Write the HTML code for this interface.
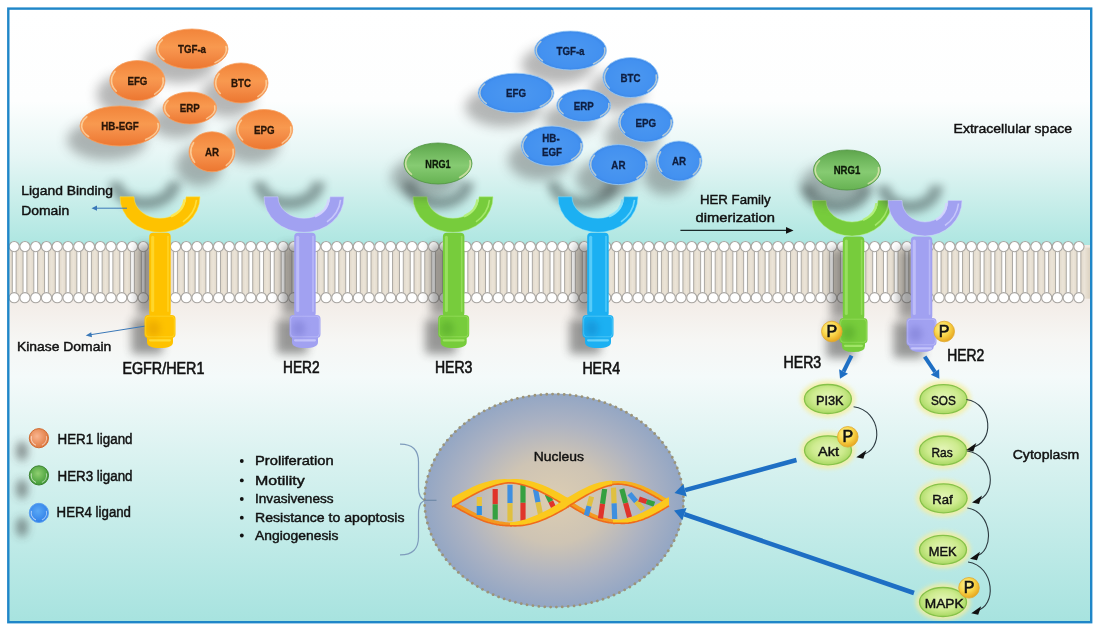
<!DOCTYPE html>
<html><head><meta charset="utf-8"><title>HER family signaling</title>
<style>html,body{margin:0;padding:0;background:#fff;width:1100px;height:631px;overflow:hidden}svg{display:block;font-family:"Liberation Sans", sans-serif;will-change:transform}</style>
</head><body>
<svg width="1100" height="631" viewBox="0 0 1100 631">
<defs>
<linearGradient id="bg" gradientUnits="userSpaceOnUse" x1="0" y1="9" x2="0" y2="622">
  <stop offset="0" stop-color="#ffffff"/>
  <stop offset="0.15" stop-color="#fdfefe"/>
  <stop offset="0.24" stop-color="#e6f6f5"/>
  <stop offset="0.32" stop-color="#c6ede9"/>
  <stop offset="0.385" stop-color="#ade6e1"/>
  <stop offset="0.385" stop-color="#f1e9e1"/>
  <stop offset="0.48" stop-color="#f3ede8"/>
  <stop offset="0.54" stop-color="#f6f6f4"/>
  <stop offset="0.60" stop-color="#f4fafa"/>
  <stop offset="0.75" stop-color="#d6f1ef"/>
  <stop offset="1" stop-color="#a7e3df"/>
</linearGradient>
<filter id="blur5" filterUnits="userSpaceOnUse" x="0" y="0" width="1100" height="631"><feGaussianBlur stdDeviation="5"/></filter>
<filter id="blur4" filterUnits="userSpaceOnUse" x="0" y="0" width="1100" height="631"><feGaussianBlur stdDeviation="4"/></filter>
<filter id="blur3" filterUnits="userSpaceOnUse" x="0" y="0" width="1100" height="631"><feGaussianBlur stdDeviation="3"/></filter>
<filter id="blur2" filterUnits="userSpaceOnUse" x="0" y="0" width="1100" height="631"><feGaussianBlur stdDeviation="2"/></filter>
<filter id="blur6" filterUnits="userSpaceOnUse" x="0" y="0" width="1100" height="631"><feGaussianBlur stdDeviation="6"/></filter>
<filter id="blur05" filterUnits="userSpaceOnUse" x="0" y="0" width="1100" height="631"><feGaussianBlur stdDeviation="0.6"/></filter>
<filter id="blur1" filterUnits="userSpaceOnUse" x="0" y="0" width="1100" height="631"><feGaussianBlur stdDeviation="1"/></filter>
<linearGradient id="gOr" x1="0" y1="0" x2="0" y2="1">
  <stop offset="0" stop-color="#f2843a"/>
  <stop offset="0.45" stop-color="#f8994f"/>
  <stop offset="0.6" stop-color="#f5904a"/>
  <stop offset="1" stop-color="#ec7630"/>
</linearGradient>
<radialGradient id="gBl" cx="0.5" cy="0.5" r="0.5">
  <stop offset="0" stop-color="#4c98f0"/>
  <stop offset="0.85" stop-color="#4391f0"/>
  <stop offset="1" stop-color="#3c88e8"/>
</radialGradient>
<linearGradient id="gGr" x1="0" y1="0" x2="0" y2="1">
  <stop offset="0" stop-color="#5ea44c"/>
  <stop offset="0.2" stop-color="#6cb45a"/>
  <stop offset="0.55" stop-color="#86cb72"/>
  <stop offset="1" stop-color="#66b252"/>
</linearGradient>
<radialGradient id="gSig" cx="0.5" cy="0.45" r="0.55">
  <stop offset="0" stop-color="#e4f5b8"/>
  <stop offset="0.6" stop-color="#cdeb8e"/>
  <stop offset="1" stop-color="#a9d862"/>
</radialGradient>
<radialGradient id="gP" cx="0.4" cy="0.35" r="0.65">
  <stop offset="0" stop-color="#fff4a0"/>
  <stop offset="0.55" stop-color="#f9d64a"/>
  <stop offset="1" stop-color="#e8a820"/>
</radialGradient>
<radialGradient id="gNuc" cx="0.5" cy="0.5" r="0.5">
  <stop offset="0" stop-color="#dccdb2"/>
  <stop offset="0.4" stop-color="#cec4b4"/>
  <stop offset="0.72" stop-color="#adb3c2"/>
  <stop offset="1" stop-color="#93a6c4"/>
</radialGradient>
<radialGradient id="gL1" cx="0.4" cy="0.4" r="0.6">
  <stop offset="0" stop-color="#f9b590"/>
  <stop offset="1" stop-color="#e07a40"/>
</radialGradient>
<radialGradient id="gL3" cx="0.45" cy="0.4" r="0.6">
  <stop offset="0" stop-color="#8fcf70"/>
  <stop offset="1" stop-color="#3f9a35"/>
</radialGradient>
<radialGradient id="gL4" cx="0.45" cy="0.4" r="0.6">
  <stop offset="0" stop-color="#5aa8f5"/>
  <stop offset="1" stop-color="#2f7fe8"/>
</radialGradient>
<linearGradient id="membG" x1="0" y1="0" x2="1" y2="0">
  <stop offset="0" stop-color="#ddd3c2"/>
  <stop offset="0.5" stop-color="#ebe4d8"/>
  <stop offset="1" stop-color="#ddd3c2"/>
</linearGradient>
<pattern id="memb" patternUnits="userSpaceOnUse" x="14.2" y="0" width="10.755" height="631">
  <rect x="0" y="0" width="10.755" height="631" fill="url(#membG)"/>
</pattern>
</defs>
<rect x="0" y="0" width="1100" height="631" fill="#ffffff"/>
<rect x="9" y="9" width="1082.5" height="613.5" fill="url(#bg)"/>
<rect x="9" y="247.6" width="1081" height="51.099999999999994" fill="url(#memb)"/>
<g><rect x="12.30" y="249.6" width="3.8" height="45.1" fill="#ffffff" stroke="#aca9a4" stroke-width="1"/><rect x="23.05" y="249.6" width="3.8" height="45.1" fill="#ffffff" stroke="#aca9a4" stroke-width="1"/><rect x="33.81" y="249.6" width="3.8" height="45.1" fill="#ffffff" stroke="#aca9a4" stroke-width="1"/><rect x="44.57" y="249.6" width="3.8" height="45.1" fill="#ffffff" stroke="#aca9a4" stroke-width="1"/><rect x="55.32" y="249.6" width="3.8" height="45.1" fill="#ffffff" stroke="#aca9a4" stroke-width="1"/><rect x="66.08" y="249.6" width="3.8" height="45.1" fill="#ffffff" stroke="#aca9a4" stroke-width="1"/><rect x="76.83" y="249.6" width="3.8" height="45.1" fill="#ffffff" stroke="#aca9a4" stroke-width="1"/><rect x="87.59" y="249.6" width="3.8" height="45.1" fill="#ffffff" stroke="#aca9a4" stroke-width="1"/><rect x="98.34" y="249.6" width="3.8" height="45.1" fill="#ffffff" stroke="#aca9a4" stroke-width="1"/><rect x="109.09" y="249.6" width="3.8" height="45.1" fill="#ffffff" stroke="#aca9a4" stroke-width="1"/><rect x="119.85" y="249.6" width="3.8" height="45.1" fill="#ffffff" stroke="#aca9a4" stroke-width="1"/><rect x="130.60" y="249.6" width="3.8" height="45.1" fill="#ffffff" stroke="#aca9a4" stroke-width="1"/><rect x="141.36" y="249.6" width="3.8" height="45.1" fill="#ffffff" stroke="#aca9a4" stroke-width="1"/><rect x="152.11" y="249.6" width="3.8" height="45.1" fill="#ffffff" stroke="#aca9a4" stroke-width="1"/><rect x="162.87" y="249.6" width="3.8" height="45.1" fill="#ffffff" stroke="#aca9a4" stroke-width="1"/><rect x="173.62" y="249.6" width="3.8" height="45.1" fill="#ffffff" stroke="#aca9a4" stroke-width="1"/><rect x="184.38" y="249.6" width="3.8" height="45.1" fill="#ffffff" stroke="#aca9a4" stroke-width="1"/><rect x="195.13" y="249.6" width="3.8" height="45.1" fill="#ffffff" stroke="#aca9a4" stroke-width="1"/><rect x="205.89" y="249.6" width="3.8" height="45.1" fill="#ffffff" stroke="#aca9a4" stroke-width="1"/><rect x="216.65" y="249.6" width="3.8" height="45.1" fill="#ffffff" stroke="#aca9a4" stroke-width="1"/><rect x="227.40" y="249.6" width="3.8" height="45.1" fill="#ffffff" stroke="#aca9a4" stroke-width="1"/><rect x="238.16" y="249.6" width="3.8" height="45.1" fill="#ffffff" stroke="#aca9a4" stroke-width="1"/><rect x="248.91" y="249.6" width="3.8" height="45.1" fill="#ffffff" stroke="#aca9a4" stroke-width="1"/><rect x="259.67" y="249.6" width="3.8" height="45.1" fill="#ffffff" stroke="#aca9a4" stroke-width="1"/><rect x="270.42" y="249.6" width="3.8" height="45.1" fill="#ffffff" stroke="#aca9a4" stroke-width="1"/><rect x="281.18" y="249.6" width="3.8" height="45.1" fill="#ffffff" stroke="#aca9a4" stroke-width="1"/><rect x="291.93" y="249.6" width="3.8" height="45.1" fill="#ffffff" stroke="#aca9a4" stroke-width="1"/><rect x="302.69" y="249.6" width="3.8" height="45.1" fill="#ffffff" stroke="#aca9a4" stroke-width="1"/><rect x="313.44" y="249.6" width="3.8" height="45.1" fill="#ffffff" stroke="#aca9a4" stroke-width="1"/><rect x="324.20" y="249.6" width="3.8" height="45.1" fill="#ffffff" stroke="#aca9a4" stroke-width="1"/><rect x="334.95" y="249.6" width="3.8" height="45.1" fill="#ffffff" stroke="#aca9a4" stroke-width="1"/><rect x="345.71" y="249.6" width="3.8" height="45.1" fill="#ffffff" stroke="#aca9a4" stroke-width="1"/><rect x="356.46" y="249.6" width="3.8" height="45.1" fill="#ffffff" stroke="#aca9a4" stroke-width="1"/><rect x="367.22" y="249.6" width="3.8" height="45.1" fill="#ffffff" stroke="#aca9a4" stroke-width="1"/><rect x="377.97" y="249.6" width="3.8" height="45.1" fill="#ffffff" stroke="#aca9a4" stroke-width="1"/><rect x="388.73" y="249.6" width="3.8" height="45.1" fill="#ffffff" stroke="#aca9a4" stroke-width="1"/><rect x="399.48" y="249.6" width="3.8" height="45.1" fill="#ffffff" stroke="#aca9a4" stroke-width="1"/><rect x="410.24" y="249.6" width="3.8" height="45.1" fill="#ffffff" stroke="#aca9a4" stroke-width="1"/><rect x="420.99" y="249.6" width="3.8" height="45.1" fill="#ffffff" stroke="#aca9a4" stroke-width="1"/><rect x="431.75" y="249.6" width="3.8" height="45.1" fill="#ffffff" stroke="#aca9a4" stroke-width="1"/><rect x="442.50" y="249.6" width="3.8" height="45.1" fill="#ffffff" stroke="#aca9a4" stroke-width="1"/><rect x="453.26" y="249.6" width="3.8" height="45.1" fill="#ffffff" stroke="#aca9a4" stroke-width="1"/><rect x="464.01" y="249.6" width="3.8" height="45.1" fill="#ffffff" stroke="#aca9a4" stroke-width="1"/><rect x="474.77" y="249.6" width="3.8" height="45.1" fill="#ffffff" stroke="#aca9a4" stroke-width="1"/><rect x="485.52" y="249.6" width="3.8" height="45.1" fill="#ffffff" stroke="#aca9a4" stroke-width="1"/><rect x="496.28" y="249.6" width="3.8" height="45.1" fill="#ffffff" stroke="#aca9a4" stroke-width="1"/><rect x="507.03" y="249.6" width="3.8" height="45.1" fill="#ffffff" stroke="#aca9a4" stroke-width="1"/><rect x="517.79" y="249.6" width="3.8" height="45.1" fill="#ffffff" stroke="#aca9a4" stroke-width="1"/><rect x="528.54" y="249.6" width="3.8" height="45.1" fill="#ffffff" stroke="#aca9a4" stroke-width="1"/><rect x="539.30" y="249.6" width="3.8" height="45.1" fill="#ffffff" stroke="#aca9a4" stroke-width="1"/><rect x="550.05" y="249.6" width="3.8" height="45.1" fill="#ffffff" stroke="#aca9a4" stroke-width="1"/><rect x="560.81" y="249.6" width="3.8" height="45.1" fill="#ffffff" stroke="#aca9a4" stroke-width="1"/><rect x="571.56" y="249.6" width="3.8" height="45.1" fill="#ffffff" stroke="#aca9a4" stroke-width="1"/><rect x="582.32" y="249.6" width="3.8" height="45.1" fill="#ffffff" stroke="#aca9a4" stroke-width="1"/><rect x="593.07" y="249.6" width="3.8" height="45.1" fill="#ffffff" stroke="#aca9a4" stroke-width="1"/><rect x="603.83" y="249.6" width="3.8" height="45.1" fill="#ffffff" stroke="#aca9a4" stroke-width="1"/><rect x="614.58" y="249.6" width="3.8" height="45.1" fill="#ffffff" stroke="#aca9a4" stroke-width="1"/><rect x="625.34" y="249.6" width="3.8" height="45.1" fill="#ffffff" stroke="#aca9a4" stroke-width="1"/><rect x="636.09" y="249.6" width="3.8" height="45.1" fill="#ffffff" stroke="#aca9a4" stroke-width="1"/><rect x="646.85" y="249.6" width="3.8" height="45.1" fill="#ffffff" stroke="#aca9a4" stroke-width="1"/><rect x="657.60" y="249.6" width="3.8" height="45.1" fill="#ffffff" stroke="#aca9a4" stroke-width="1"/><rect x="668.36" y="249.6" width="3.8" height="45.1" fill="#ffffff" stroke="#aca9a4" stroke-width="1"/><rect x="679.11" y="249.6" width="3.8" height="45.1" fill="#ffffff" stroke="#aca9a4" stroke-width="1"/><rect x="689.87" y="249.6" width="3.8" height="45.1" fill="#ffffff" stroke="#aca9a4" stroke-width="1"/><rect x="700.62" y="249.6" width="3.8" height="45.1" fill="#ffffff" stroke="#aca9a4" stroke-width="1"/><rect x="711.38" y="249.6" width="3.8" height="45.1" fill="#ffffff" stroke="#aca9a4" stroke-width="1"/><rect x="722.13" y="249.6" width="3.8" height="45.1" fill="#ffffff" stroke="#aca9a4" stroke-width="1"/><rect x="732.89" y="249.6" width="3.8" height="45.1" fill="#ffffff" stroke="#aca9a4" stroke-width="1"/><rect x="743.64" y="249.6" width="3.8" height="45.1" fill="#ffffff" stroke="#aca9a4" stroke-width="1"/><rect x="754.40" y="249.6" width="3.8" height="45.1" fill="#ffffff" stroke="#aca9a4" stroke-width="1"/><rect x="765.15" y="249.6" width="3.8" height="45.1" fill="#ffffff" stroke="#aca9a4" stroke-width="1"/><rect x="775.91" y="249.6" width="3.8" height="45.1" fill="#ffffff" stroke="#aca9a4" stroke-width="1"/><rect x="786.66" y="249.6" width="3.8" height="45.1" fill="#ffffff" stroke="#aca9a4" stroke-width="1"/><rect x="797.42" y="249.6" width="3.8" height="45.1" fill="#ffffff" stroke="#aca9a4" stroke-width="1"/><rect x="808.17" y="249.6" width="3.8" height="45.1" fill="#ffffff" stroke="#aca9a4" stroke-width="1"/><rect x="818.93" y="249.6" width="3.8" height="45.1" fill="#ffffff" stroke="#aca9a4" stroke-width="1"/><rect x="829.68" y="249.6" width="3.8" height="45.1" fill="#ffffff" stroke="#aca9a4" stroke-width="1"/><rect x="840.44" y="249.6" width="3.8" height="45.1" fill="#ffffff" stroke="#aca9a4" stroke-width="1"/><rect x="851.19" y="249.6" width="3.8" height="45.1" fill="#ffffff" stroke="#aca9a4" stroke-width="1"/><rect x="861.95" y="249.6" width="3.8" height="45.1" fill="#ffffff" stroke="#aca9a4" stroke-width="1"/><rect x="872.70" y="249.6" width="3.8" height="45.1" fill="#ffffff" stroke="#aca9a4" stroke-width="1"/><rect x="883.46" y="249.6" width="3.8" height="45.1" fill="#ffffff" stroke="#aca9a4" stroke-width="1"/><rect x="894.21" y="249.6" width="3.8" height="45.1" fill="#ffffff" stroke="#aca9a4" stroke-width="1"/><rect x="904.97" y="249.6" width="3.8" height="45.1" fill="#ffffff" stroke="#aca9a4" stroke-width="1"/><rect x="915.72" y="249.6" width="3.8" height="45.1" fill="#ffffff" stroke="#aca9a4" stroke-width="1"/><rect x="926.48" y="249.6" width="3.8" height="45.1" fill="#ffffff" stroke="#aca9a4" stroke-width="1"/><rect x="937.23" y="249.6" width="3.8" height="45.1" fill="#ffffff" stroke="#aca9a4" stroke-width="1"/><rect x="947.99" y="249.6" width="3.8" height="45.1" fill="#ffffff" stroke="#aca9a4" stroke-width="1"/><rect x="958.74" y="249.6" width="3.8" height="45.1" fill="#ffffff" stroke="#aca9a4" stroke-width="1"/><rect x="969.50" y="249.6" width="3.8" height="45.1" fill="#ffffff" stroke="#aca9a4" stroke-width="1"/><rect x="980.25" y="249.6" width="3.8" height="45.1" fill="#ffffff" stroke="#aca9a4" stroke-width="1"/><rect x="991.01" y="249.6" width="3.8" height="45.1" fill="#ffffff" stroke="#aca9a4" stroke-width="1"/><rect x="1001.76" y="249.6" width="3.8" height="45.1" fill="#ffffff" stroke="#aca9a4" stroke-width="1"/><rect x="1012.52" y="249.6" width="3.8" height="45.1" fill="#ffffff" stroke="#aca9a4" stroke-width="1"/><rect x="1023.27" y="249.6" width="3.8" height="45.1" fill="#ffffff" stroke="#aca9a4" stroke-width="1"/><rect x="1034.02" y="249.6" width="3.8" height="45.1" fill="#ffffff" stroke="#aca9a4" stroke-width="1"/><rect x="1044.78" y="249.6" width="3.8" height="45.1" fill="#ffffff" stroke="#aca9a4" stroke-width="1"/><rect x="1055.54" y="249.6" width="3.8" height="45.1" fill="#ffffff" stroke="#aca9a4" stroke-width="1"/><rect x="1066.29" y="249.6" width="3.8" height="45.1" fill="#ffffff" stroke="#aca9a4" stroke-width="1"/><rect x="1077.05" y="249.6" width="3.8" height="45.1" fill="#ffffff" stroke="#aca9a4" stroke-width="1"/><circle cx="14.20" cy="246.6" r="5.1" fill="#ffffff" stroke="#a9a6a2" stroke-width="1.1"/><circle cx="14.20" cy="297.7" r="5.1" fill="#ffffff" stroke="#a9a6a2" stroke-width="1.1"/><circle cx="24.95" cy="246.6" r="5.1" fill="#ffffff" stroke="#a9a6a2" stroke-width="1.1"/><circle cx="24.95" cy="297.7" r="5.1" fill="#ffffff" stroke="#a9a6a2" stroke-width="1.1"/><circle cx="35.71" cy="246.6" r="5.1" fill="#ffffff" stroke="#a9a6a2" stroke-width="1.1"/><circle cx="35.71" cy="297.7" r="5.1" fill="#ffffff" stroke="#a9a6a2" stroke-width="1.1"/><circle cx="46.47" cy="246.6" r="5.1" fill="#ffffff" stroke="#a9a6a2" stroke-width="1.1"/><circle cx="46.47" cy="297.7" r="5.1" fill="#ffffff" stroke="#a9a6a2" stroke-width="1.1"/><circle cx="57.22" cy="246.6" r="5.1" fill="#ffffff" stroke="#a9a6a2" stroke-width="1.1"/><circle cx="57.22" cy="297.7" r="5.1" fill="#ffffff" stroke="#a9a6a2" stroke-width="1.1"/><circle cx="67.98" cy="246.6" r="5.1" fill="#ffffff" stroke="#a9a6a2" stroke-width="1.1"/><circle cx="67.98" cy="297.7" r="5.1" fill="#ffffff" stroke="#a9a6a2" stroke-width="1.1"/><circle cx="78.73" cy="246.6" r="5.1" fill="#ffffff" stroke="#a9a6a2" stroke-width="1.1"/><circle cx="78.73" cy="297.7" r="5.1" fill="#ffffff" stroke="#a9a6a2" stroke-width="1.1"/><circle cx="89.49" cy="246.6" r="5.1" fill="#ffffff" stroke="#a9a6a2" stroke-width="1.1"/><circle cx="89.49" cy="297.7" r="5.1" fill="#ffffff" stroke="#a9a6a2" stroke-width="1.1"/><circle cx="100.24" cy="246.6" r="5.1" fill="#ffffff" stroke="#a9a6a2" stroke-width="1.1"/><circle cx="100.24" cy="297.7" r="5.1" fill="#ffffff" stroke="#a9a6a2" stroke-width="1.1"/><circle cx="111.00" cy="246.6" r="5.1" fill="#ffffff" stroke="#a9a6a2" stroke-width="1.1"/><circle cx="111.00" cy="297.7" r="5.1" fill="#ffffff" stroke="#a9a6a2" stroke-width="1.1"/><circle cx="121.75" cy="246.6" r="5.1" fill="#ffffff" stroke="#a9a6a2" stroke-width="1.1"/><circle cx="121.75" cy="297.7" r="5.1" fill="#ffffff" stroke="#a9a6a2" stroke-width="1.1"/><circle cx="132.50" cy="246.6" r="5.1" fill="#ffffff" stroke="#a9a6a2" stroke-width="1.1"/><circle cx="132.50" cy="297.7" r="5.1" fill="#ffffff" stroke="#a9a6a2" stroke-width="1.1"/><circle cx="143.26" cy="246.6" r="5.1" fill="#ffffff" stroke="#a9a6a2" stroke-width="1.1"/><circle cx="143.26" cy="297.7" r="5.1" fill="#ffffff" stroke="#a9a6a2" stroke-width="1.1"/><circle cx="154.01" cy="246.6" r="5.1" fill="#ffffff" stroke="#a9a6a2" stroke-width="1.1"/><circle cx="154.01" cy="297.7" r="5.1" fill="#ffffff" stroke="#a9a6a2" stroke-width="1.1"/><circle cx="164.77" cy="246.6" r="5.1" fill="#ffffff" stroke="#a9a6a2" stroke-width="1.1"/><circle cx="164.77" cy="297.7" r="5.1" fill="#ffffff" stroke="#a9a6a2" stroke-width="1.1"/><circle cx="175.53" cy="246.6" r="5.1" fill="#ffffff" stroke="#a9a6a2" stroke-width="1.1"/><circle cx="175.53" cy="297.7" r="5.1" fill="#ffffff" stroke="#a9a6a2" stroke-width="1.1"/><circle cx="186.28" cy="246.6" r="5.1" fill="#ffffff" stroke="#a9a6a2" stroke-width="1.1"/><circle cx="186.28" cy="297.7" r="5.1" fill="#ffffff" stroke="#a9a6a2" stroke-width="1.1"/><circle cx="197.03" cy="246.6" r="5.1" fill="#ffffff" stroke="#a9a6a2" stroke-width="1.1"/><circle cx="197.03" cy="297.7" r="5.1" fill="#ffffff" stroke="#a9a6a2" stroke-width="1.1"/><circle cx="207.79" cy="246.6" r="5.1" fill="#ffffff" stroke="#a9a6a2" stroke-width="1.1"/><circle cx="207.79" cy="297.7" r="5.1" fill="#ffffff" stroke="#a9a6a2" stroke-width="1.1"/><circle cx="218.55" cy="246.6" r="5.1" fill="#ffffff" stroke="#a9a6a2" stroke-width="1.1"/><circle cx="218.55" cy="297.7" r="5.1" fill="#ffffff" stroke="#a9a6a2" stroke-width="1.1"/><circle cx="229.30" cy="246.6" r="5.1" fill="#ffffff" stroke="#a9a6a2" stroke-width="1.1"/><circle cx="229.30" cy="297.7" r="5.1" fill="#ffffff" stroke="#a9a6a2" stroke-width="1.1"/><circle cx="240.06" cy="246.6" r="5.1" fill="#ffffff" stroke="#a9a6a2" stroke-width="1.1"/><circle cx="240.06" cy="297.7" r="5.1" fill="#ffffff" stroke="#a9a6a2" stroke-width="1.1"/><circle cx="250.81" cy="246.6" r="5.1" fill="#ffffff" stroke="#a9a6a2" stroke-width="1.1"/><circle cx="250.81" cy="297.7" r="5.1" fill="#ffffff" stroke="#a9a6a2" stroke-width="1.1"/><circle cx="261.56" cy="246.6" r="5.1" fill="#ffffff" stroke="#a9a6a2" stroke-width="1.1"/><circle cx="261.56" cy="297.7" r="5.1" fill="#ffffff" stroke="#a9a6a2" stroke-width="1.1"/><circle cx="272.32" cy="246.6" r="5.1" fill="#ffffff" stroke="#a9a6a2" stroke-width="1.1"/><circle cx="272.32" cy="297.7" r="5.1" fill="#ffffff" stroke="#a9a6a2" stroke-width="1.1"/><circle cx="283.07" cy="246.6" r="5.1" fill="#ffffff" stroke="#a9a6a2" stroke-width="1.1"/><circle cx="283.07" cy="297.7" r="5.1" fill="#ffffff" stroke="#a9a6a2" stroke-width="1.1"/><circle cx="293.83" cy="246.6" r="5.1" fill="#ffffff" stroke="#a9a6a2" stroke-width="1.1"/><circle cx="293.83" cy="297.7" r="5.1" fill="#ffffff" stroke="#a9a6a2" stroke-width="1.1"/><circle cx="304.59" cy="246.6" r="5.1" fill="#ffffff" stroke="#a9a6a2" stroke-width="1.1"/><circle cx="304.59" cy="297.7" r="5.1" fill="#ffffff" stroke="#a9a6a2" stroke-width="1.1"/><circle cx="315.34" cy="246.6" r="5.1" fill="#ffffff" stroke="#a9a6a2" stroke-width="1.1"/><circle cx="315.34" cy="297.7" r="5.1" fill="#ffffff" stroke="#a9a6a2" stroke-width="1.1"/><circle cx="326.10" cy="246.6" r="5.1" fill="#ffffff" stroke="#a9a6a2" stroke-width="1.1"/><circle cx="326.10" cy="297.7" r="5.1" fill="#ffffff" stroke="#a9a6a2" stroke-width="1.1"/><circle cx="336.85" cy="246.6" r="5.1" fill="#ffffff" stroke="#a9a6a2" stroke-width="1.1"/><circle cx="336.85" cy="297.7" r="5.1" fill="#ffffff" stroke="#a9a6a2" stroke-width="1.1"/><circle cx="347.61" cy="246.6" r="5.1" fill="#ffffff" stroke="#a9a6a2" stroke-width="1.1"/><circle cx="347.61" cy="297.7" r="5.1" fill="#ffffff" stroke="#a9a6a2" stroke-width="1.1"/><circle cx="358.36" cy="246.6" r="5.1" fill="#ffffff" stroke="#a9a6a2" stroke-width="1.1"/><circle cx="358.36" cy="297.7" r="5.1" fill="#ffffff" stroke="#a9a6a2" stroke-width="1.1"/><circle cx="369.12" cy="246.6" r="5.1" fill="#ffffff" stroke="#a9a6a2" stroke-width="1.1"/><circle cx="369.12" cy="297.7" r="5.1" fill="#ffffff" stroke="#a9a6a2" stroke-width="1.1"/><circle cx="379.87" cy="246.6" r="5.1" fill="#ffffff" stroke="#a9a6a2" stroke-width="1.1"/><circle cx="379.87" cy="297.7" r="5.1" fill="#ffffff" stroke="#a9a6a2" stroke-width="1.1"/><circle cx="390.62" cy="246.6" r="5.1" fill="#ffffff" stroke="#a9a6a2" stroke-width="1.1"/><circle cx="390.62" cy="297.7" r="5.1" fill="#ffffff" stroke="#a9a6a2" stroke-width="1.1"/><circle cx="401.38" cy="246.6" r="5.1" fill="#ffffff" stroke="#a9a6a2" stroke-width="1.1"/><circle cx="401.38" cy="297.7" r="5.1" fill="#ffffff" stroke="#a9a6a2" stroke-width="1.1"/><circle cx="412.13" cy="246.6" r="5.1" fill="#ffffff" stroke="#a9a6a2" stroke-width="1.1"/><circle cx="412.13" cy="297.7" r="5.1" fill="#ffffff" stroke="#a9a6a2" stroke-width="1.1"/><circle cx="422.89" cy="246.6" r="5.1" fill="#ffffff" stroke="#a9a6a2" stroke-width="1.1"/><circle cx="422.89" cy="297.7" r="5.1" fill="#ffffff" stroke="#a9a6a2" stroke-width="1.1"/><circle cx="433.65" cy="246.6" r="5.1" fill="#ffffff" stroke="#a9a6a2" stroke-width="1.1"/><circle cx="433.65" cy="297.7" r="5.1" fill="#ffffff" stroke="#a9a6a2" stroke-width="1.1"/><circle cx="444.40" cy="246.6" r="5.1" fill="#ffffff" stroke="#a9a6a2" stroke-width="1.1"/><circle cx="444.40" cy="297.7" r="5.1" fill="#ffffff" stroke="#a9a6a2" stroke-width="1.1"/><circle cx="455.16" cy="246.6" r="5.1" fill="#ffffff" stroke="#a9a6a2" stroke-width="1.1"/><circle cx="455.16" cy="297.7" r="5.1" fill="#ffffff" stroke="#a9a6a2" stroke-width="1.1"/><circle cx="465.91" cy="246.6" r="5.1" fill="#ffffff" stroke="#a9a6a2" stroke-width="1.1"/><circle cx="465.91" cy="297.7" r="5.1" fill="#ffffff" stroke="#a9a6a2" stroke-width="1.1"/><circle cx="476.67" cy="246.6" r="5.1" fill="#ffffff" stroke="#a9a6a2" stroke-width="1.1"/><circle cx="476.67" cy="297.7" r="5.1" fill="#ffffff" stroke="#a9a6a2" stroke-width="1.1"/><circle cx="487.42" cy="246.6" r="5.1" fill="#ffffff" stroke="#a9a6a2" stroke-width="1.1"/><circle cx="487.42" cy="297.7" r="5.1" fill="#ffffff" stroke="#a9a6a2" stroke-width="1.1"/><circle cx="498.18" cy="246.6" r="5.1" fill="#ffffff" stroke="#a9a6a2" stroke-width="1.1"/><circle cx="498.18" cy="297.7" r="5.1" fill="#ffffff" stroke="#a9a6a2" stroke-width="1.1"/><circle cx="508.93" cy="246.6" r="5.1" fill="#ffffff" stroke="#a9a6a2" stroke-width="1.1"/><circle cx="508.93" cy="297.7" r="5.1" fill="#ffffff" stroke="#a9a6a2" stroke-width="1.1"/><circle cx="519.69" cy="246.6" r="5.1" fill="#ffffff" stroke="#a9a6a2" stroke-width="1.1"/><circle cx="519.69" cy="297.7" r="5.1" fill="#ffffff" stroke="#a9a6a2" stroke-width="1.1"/><circle cx="530.44" cy="246.6" r="5.1" fill="#ffffff" stroke="#a9a6a2" stroke-width="1.1"/><circle cx="530.44" cy="297.7" r="5.1" fill="#ffffff" stroke="#a9a6a2" stroke-width="1.1"/><circle cx="541.20" cy="246.6" r="5.1" fill="#ffffff" stroke="#a9a6a2" stroke-width="1.1"/><circle cx="541.20" cy="297.7" r="5.1" fill="#ffffff" stroke="#a9a6a2" stroke-width="1.1"/><circle cx="551.95" cy="246.6" r="5.1" fill="#ffffff" stroke="#a9a6a2" stroke-width="1.1"/><circle cx="551.95" cy="297.7" r="5.1" fill="#ffffff" stroke="#a9a6a2" stroke-width="1.1"/><circle cx="562.71" cy="246.6" r="5.1" fill="#ffffff" stroke="#a9a6a2" stroke-width="1.1"/><circle cx="562.71" cy="297.7" r="5.1" fill="#ffffff" stroke="#a9a6a2" stroke-width="1.1"/><circle cx="573.46" cy="246.6" r="5.1" fill="#ffffff" stroke="#a9a6a2" stroke-width="1.1"/><circle cx="573.46" cy="297.7" r="5.1" fill="#ffffff" stroke="#a9a6a2" stroke-width="1.1"/><circle cx="584.22" cy="246.6" r="5.1" fill="#ffffff" stroke="#a9a6a2" stroke-width="1.1"/><circle cx="584.22" cy="297.7" r="5.1" fill="#ffffff" stroke="#a9a6a2" stroke-width="1.1"/><circle cx="594.97" cy="246.6" r="5.1" fill="#ffffff" stroke="#a9a6a2" stroke-width="1.1"/><circle cx="594.97" cy="297.7" r="5.1" fill="#ffffff" stroke="#a9a6a2" stroke-width="1.1"/><circle cx="605.73" cy="246.6" r="5.1" fill="#ffffff" stroke="#a9a6a2" stroke-width="1.1"/><circle cx="605.73" cy="297.7" r="5.1" fill="#ffffff" stroke="#a9a6a2" stroke-width="1.1"/><circle cx="616.48" cy="246.6" r="5.1" fill="#ffffff" stroke="#a9a6a2" stroke-width="1.1"/><circle cx="616.48" cy="297.7" r="5.1" fill="#ffffff" stroke="#a9a6a2" stroke-width="1.1"/><circle cx="627.24" cy="246.6" r="5.1" fill="#ffffff" stroke="#a9a6a2" stroke-width="1.1"/><circle cx="627.24" cy="297.7" r="5.1" fill="#ffffff" stroke="#a9a6a2" stroke-width="1.1"/><circle cx="637.99" cy="246.6" r="5.1" fill="#ffffff" stroke="#a9a6a2" stroke-width="1.1"/><circle cx="637.99" cy="297.7" r="5.1" fill="#ffffff" stroke="#a9a6a2" stroke-width="1.1"/><circle cx="648.75" cy="246.6" r="5.1" fill="#ffffff" stroke="#a9a6a2" stroke-width="1.1"/><circle cx="648.75" cy="297.7" r="5.1" fill="#ffffff" stroke="#a9a6a2" stroke-width="1.1"/><circle cx="659.50" cy="246.6" r="5.1" fill="#ffffff" stroke="#a9a6a2" stroke-width="1.1"/><circle cx="659.50" cy="297.7" r="5.1" fill="#ffffff" stroke="#a9a6a2" stroke-width="1.1"/><circle cx="670.26" cy="246.6" r="5.1" fill="#ffffff" stroke="#a9a6a2" stroke-width="1.1"/><circle cx="670.26" cy="297.7" r="5.1" fill="#ffffff" stroke="#a9a6a2" stroke-width="1.1"/><circle cx="681.01" cy="246.6" r="5.1" fill="#ffffff" stroke="#a9a6a2" stroke-width="1.1"/><circle cx="681.01" cy="297.7" r="5.1" fill="#ffffff" stroke="#a9a6a2" stroke-width="1.1"/><circle cx="691.77" cy="246.6" r="5.1" fill="#ffffff" stroke="#a9a6a2" stroke-width="1.1"/><circle cx="691.77" cy="297.7" r="5.1" fill="#ffffff" stroke="#a9a6a2" stroke-width="1.1"/><circle cx="702.52" cy="246.6" r="5.1" fill="#ffffff" stroke="#a9a6a2" stroke-width="1.1"/><circle cx="702.52" cy="297.7" r="5.1" fill="#ffffff" stroke="#a9a6a2" stroke-width="1.1"/><circle cx="713.28" cy="246.6" r="5.1" fill="#ffffff" stroke="#a9a6a2" stroke-width="1.1"/><circle cx="713.28" cy="297.7" r="5.1" fill="#ffffff" stroke="#a9a6a2" stroke-width="1.1"/><circle cx="724.03" cy="246.6" r="5.1" fill="#ffffff" stroke="#a9a6a2" stroke-width="1.1"/><circle cx="724.03" cy="297.7" r="5.1" fill="#ffffff" stroke="#a9a6a2" stroke-width="1.1"/><circle cx="734.79" cy="246.6" r="5.1" fill="#ffffff" stroke="#a9a6a2" stroke-width="1.1"/><circle cx="734.79" cy="297.7" r="5.1" fill="#ffffff" stroke="#a9a6a2" stroke-width="1.1"/><circle cx="745.54" cy="246.6" r="5.1" fill="#ffffff" stroke="#a9a6a2" stroke-width="1.1"/><circle cx="745.54" cy="297.7" r="5.1" fill="#ffffff" stroke="#a9a6a2" stroke-width="1.1"/><circle cx="756.30" cy="246.6" r="5.1" fill="#ffffff" stroke="#a9a6a2" stroke-width="1.1"/><circle cx="756.30" cy="297.7" r="5.1" fill="#ffffff" stroke="#a9a6a2" stroke-width="1.1"/><circle cx="767.05" cy="246.6" r="5.1" fill="#ffffff" stroke="#a9a6a2" stroke-width="1.1"/><circle cx="767.05" cy="297.7" r="5.1" fill="#ffffff" stroke="#a9a6a2" stroke-width="1.1"/><circle cx="777.81" cy="246.6" r="5.1" fill="#ffffff" stroke="#a9a6a2" stroke-width="1.1"/><circle cx="777.81" cy="297.7" r="5.1" fill="#ffffff" stroke="#a9a6a2" stroke-width="1.1"/><circle cx="788.56" cy="246.6" r="5.1" fill="#ffffff" stroke="#a9a6a2" stroke-width="1.1"/><circle cx="788.56" cy="297.7" r="5.1" fill="#ffffff" stroke="#a9a6a2" stroke-width="1.1"/><circle cx="799.32" cy="246.6" r="5.1" fill="#ffffff" stroke="#a9a6a2" stroke-width="1.1"/><circle cx="799.32" cy="297.7" r="5.1" fill="#ffffff" stroke="#a9a6a2" stroke-width="1.1"/><circle cx="810.07" cy="246.6" r="5.1" fill="#ffffff" stroke="#a9a6a2" stroke-width="1.1"/><circle cx="810.07" cy="297.7" r="5.1" fill="#ffffff" stroke="#a9a6a2" stroke-width="1.1"/><circle cx="820.83" cy="246.6" r="5.1" fill="#ffffff" stroke="#a9a6a2" stroke-width="1.1"/><circle cx="820.83" cy="297.7" r="5.1" fill="#ffffff" stroke="#a9a6a2" stroke-width="1.1"/><circle cx="831.58" cy="246.6" r="5.1" fill="#ffffff" stroke="#a9a6a2" stroke-width="1.1"/><circle cx="831.58" cy="297.7" r="5.1" fill="#ffffff" stroke="#a9a6a2" stroke-width="1.1"/><circle cx="842.34" cy="246.6" r="5.1" fill="#ffffff" stroke="#a9a6a2" stroke-width="1.1"/><circle cx="842.34" cy="297.7" r="5.1" fill="#ffffff" stroke="#a9a6a2" stroke-width="1.1"/><circle cx="853.09" cy="246.6" r="5.1" fill="#ffffff" stroke="#a9a6a2" stroke-width="1.1"/><circle cx="853.09" cy="297.7" r="5.1" fill="#ffffff" stroke="#a9a6a2" stroke-width="1.1"/><circle cx="863.85" cy="246.6" r="5.1" fill="#ffffff" stroke="#a9a6a2" stroke-width="1.1"/><circle cx="863.85" cy="297.7" r="5.1" fill="#ffffff" stroke="#a9a6a2" stroke-width="1.1"/><circle cx="874.60" cy="246.6" r="5.1" fill="#ffffff" stroke="#a9a6a2" stroke-width="1.1"/><circle cx="874.60" cy="297.7" r="5.1" fill="#ffffff" stroke="#a9a6a2" stroke-width="1.1"/><circle cx="885.36" cy="246.6" r="5.1" fill="#ffffff" stroke="#a9a6a2" stroke-width="1.1"/><circle cx="885.36" cy="297.7" r="5.1" fill="#ffffff" stroke="#a9a6a2" stroke-width="1.1"/><circle cx="896.11" cy="246.6" r="5.1" fill="#ffffff" stroke="#a9a6a2" stroke-width="1.1"/><circle cx="896.11" cy="297.7" r="5.1" fill="#ffffff" stroke="#a9a6a2" stroke-width="1.1"/><circle cx="906.87" cy="246.6" r="5.1" fill="#ffffff" stroke="#a9a6a2" stroke-width="1.1"/><circle cx="906.87" cy="297.7" r="5.1" fill="#ffffff" stroke="#a9a6a2" stroke-width="1.1"/><circle cx="917.62" cy="246.6" r="5.1" fill="#ffffff" stroke="#a9a6a2" stroke-width="1.1"/><circle cx="917.62" cy="297.7" r="5.1" fill="#ffffff" stroke="#a9a6a2" stroke-width="1.1"/><circle cx="928.38" cy="246.6" r="5.1" fill="#ffffff" stroke="#a9a6a2" stroke-width="1.1"/><circle cx="928.38" cy="297.7" r="5.1" fill="#ffffff" stroke="#a9a6a2" stroke-width="1.1"/><circle cx="939.13" cy="246.6" r="5.1" fill="#ffffff" stroke="#a9a6a2" stroke-width="1.1"/><circle cx="939.13" cy="297.7" r="5.1" fill="#ffffff" stroke="#a9a6a2" stroke-width="1.1"/><circle cx="949.89" cy="246.6" r="5.1" fill="#ffffff" stroke="#a9a6a2" stroke-width="1.1"/><circle cx="949.89" cy="297.7" r="5.1" fill="#ffffff" stroke="#a9a6a2" stroke-width="1.1"/><circle cx="960.64" cy="246.6" r="5.1" fill="#ffffff" stroke="#a9a6a2" stroke-width="1.1"/><circle cx="960.64" cy="297.7" r="5.1" fill="#ffffff" stroke="#a9a6a2" stroke-width="1.1"/><circle cx="971.40" cy="246.6" r="5.1" fill="#ffffff" stroke="#a9a6a2" stroke-width="1.1"/><circle cx="971.40" cy="297.7" r="5.1" fill="#ffffff" stroke="#a9a6a2" stroke-width="1.1"/><circle cx="982.15" cy="246.6" r="5.1" fill="#ffffff" stroke="#a9a6a2" stroke-width="1.1"/><circle cx="982.15" cy="297.7" r="5.1" fill="#ffffff" stroke="#a9a6a2" stroke-width="1.1"/><circle cx="992.91" cy="246.6" r="5.1" fill="#ffffff" stroke="#a9a6a2" stroke-width="1.1"/><circle cx="992.91" cy="297.7" r="5.1" fill="#ffffff" stroke="#a9a6a2" stroke-width="1.1"/><circle cx="1003.66" cy="246.6" r="5.1" fill="#ffffff" stroke="#a9a6a2" stroke-width="1.1"/><circle cx="1003.66" cy="297.7" r="5.1" fill="#ffffff" stroke="#a9a6a2" stroke-width="1.1"/><circle cx="1014.42" cy="246.6" r="5.1" fill="#ffffff" stroke="#a9a6a2" stroke-width="1.1"/><circle cx="1014.42" cy="297.7" r="5.1" fill="#ffffff" stroke="#a9a6a2" stroke-width="1.1"/><circle cx="1025.17" cy="246.6" r="5.1" fill="#ffffff" stroke="#a9a6a2" stroke-width="1.1"/><circle cx="1025.17" cy="297.7" r="5.1" fill="#ffffff" stroke="#a9a6a2" stroke-width="1.1"/><circle cx="1035.92" cy="246.6" r="5.1" fill="#ffffff" stroke="#a9a6a2" stroke-width="1.1"/><circle cx="1035.92" cy="297.7" r="5.1" fill="#ffffff" stroke="#a9a6a2" stroke-width="1.1"/><circle cx="1046.68" cy="246.6" r="5.1" fill="#ffffff" stroke="#a9a6a2" stroke-width="1.1"/><circle cx="1046.68" cy="297.7" r="5.1" fill="#ffffff" stroke="#a9a6a2" stroke-width="1.1"/><circle cx="1057.44" cy="246.6" r="5.1" fill="#ffffff" stroke="#a9a6a2" stroke-width="1.1"/><circle cx="1057.44" cy="297.7" r="5.1" fill="#ffffff" stroke="#a9a6a2" stroke-width="1.1"/><circle cx="1068.19" cy="246.6" r="5.1" fill="#ffffff" stroke="#a9a6a2" stroke-width="1.1"/><circle cx="1068.19" cy="297.7" r="5.1" fill="#ffffff" stroke="#a9a6a2" stroke-width="1.1"/><circle cx="1078.95" cy="246.6" r="5.1" fill="#ffffff" stroke="#a9a6a2" stroke-width="1.1"/><circle cx="1078.95" cy="297.7" r="5.1" fill="#ffffff" stroke="#a9a6a2" stroke-width="1.1"/></g>
<g filter="url(#blur4)" opacity="0.48"><path d="M109.0,181.8 A36,28 0 0 0 181.0,181.8 L168.0,181.8 A23,15 0 0 1 122.0,181.8 Z" fill="#3a4a4a"/></g><g filter="url(#blur5)" opacity="0.48"><rect x="137.2" y="244.8" width="21.5" height="70.19999999999999" fill="#404040"/><rect x="131.5" y="319" width="31" height="35" rx="4" fill="#303030"/></g><rect x="149.2" y="232.8" width="21.5" height="84.19999999999999" rx="4" fill="#fec200"/><rect x="151.2" y="235.8" width="3" height="76.19999999999999" rx="1.5" fill="#ffe850" opacity="0.55" filter="url(#blur05)"/><rect x="167.2" y="235.8" width="1.6" height="76.19999999999999" rx="0.8" fill="#ffe850" opacity="0.45" filter="url(#blur05)"/><path d="M147.0,335 L173.0,335 L173.0,342 Q173.0,348 160.0,348 Q147.0,348 147.0,342 Z" fill="#fec200"/><rect x="149.0" y="339.2" width="22" height="2.2" rx="1.1" fill="#ffe850" opacity="0.7" filter="url(#blur05)"/><rect x="144.5" y="315" width="31" height="23" rx="4" fill="#fec200"/><rect x="145.7" y="316.2" width="28.6" height="20.6" rx="3" fill="none" stroke="#ffe850" stroke-width="0.9" opacity="0.45"/><ellipse cx="153.5" cy="328.5" rx="7" ry="8" fill="#d89000" opacity="0.4" filter="url(#blur3)"/><path d="M120.0,196.8 A40,35.5 0 0 0 200.0,196.8 L186.0,196.8 A26,21.5 0 0 1 134.0,196.8 Z" fill="#fec200" stroke="#ffe850" stroke-width="0.9" stroke-opacity="0.55"/><path d="M184.5,199.3 A25,20.5 0 0 1 171.0,216.3" fill="none" stroke="#ffe850" stroke-width="2.4" opacity="0.95" filter="url(#blur05)"/><path d="M196.5,199.8 A36.5,32 0 0 1 183.0,221.8" fill="none" stroke="#ffe850" stroke-width="1.6" opacity="0.75" filter="url(#blur05)"/>
<g filter="url(#blur4)" opacity="0.48"><path d="M253.0,181.8 A36,28 0 0 0 325.0,181.8 L312.0,181.8 A23,15 0 0 1 266.0,181.8 Z" fill="#3a4a4a"/></g><g filter="url(#blur5)" opacity="0.48"><rect x="282.2" y="244.8" width="21.5" height="70.19999999999999" fill="#404040"/><rect x="276.5" y="319" width="31" height="35" rx="4" fill="#303030"/></g><rect x="294.2" y="232.8" width="21.5" height="84.19999999999999" rx="4" fill="#a1a1f1"/><rect x="296.2" y="235.8" width="3" height="76.19999999999999" rx="1.5" fill="#d4d4ff" opacity="0.55" filter="url(#blur05)"/><rect x="312.2" y="235.8" width="1.6" height="76.19999999999999" rx="0.8" fill="#d4d4ff" opacity="0.45" filter="url(#blur05)"/><path d="M292.0,335 L318.0,335 L318.0,342 Q318.0,348 305.0,348 Q292.0,348 292.0,342 Z" fill="#a1a1f1"/><rect x="294.0" y="339.2" width="22" height="2.2" rx="1.1" fill="#d4d4ff" opacity="0.7" filter="url(#blur05)"/><rect x="289.5" y="315" width="31" height="23" rx="4" fill="#a1a1f1"/><rect x="290.7" y="316.2" width="28.6" height="20.6" rx="3" fill="none" stroke="#d4d4ff" stroke-width="0.9" opacity="0.45"/><ellipse cx="298.5" cy="328.5" rx="7" ry="8" fill="#7070c8" opacity="0.4" filter="url(#blur3)"/><path d="M264.0,196.8 A40,35.5 0 0 0 344.0,196.8 L330.0,196.8 A26,21.5 0 0 1 278.0,196.8 Z" fill="#a1a1f1" stroke="#d4d4ff" stroke-width="0.9" stroke-opacity="0.55"/><path d="M328.5,199.3 A25,20.5 0 0 1 315.0,216.3" fill="none" stroke="#d4d4ff" stroke-width="2.4" opacity="0.95" filter="url(#blur05)"/><path d="M340.5,199.8 A36.5,32 0 0 1 327.0,221.8" fill="none" stroke="#d4d4ff" stroke-width="1.6" opacity="0.75" filter="url(#blur05)"/>
<g filter="url(#blur4)" opacity="0.48"><path d="M402.0,181.8 A36,28 0 0 0 474.0,181.8 L461.0,181.8 A23,15 0 0 1 415.0,181.8 Z" fill="#3a4a4a"/></g><g filter="url(#blur5)" opacity="0.48"><rect x="430.9" y="244.8" width="21.5" height="70.19999999999999" fill="#404040"/><rect x="425.2" y="319" width="31" height="35" rx="4" fill="#303030"/></g><rect x="442.9" y="232.8" width="21.5" height="84.19999999999999" rx="4" fill="#77cc3c"/><rect x="444.9" y="235.8" width="3" height="76.19999999999999" rx="1.5" fill="#b4f07a" opacity="0.55" filter="url(#blur05)"/><rect x="460.9" y="235.8" width="1.6" height="76.19999999999999" rx="0.8" fill="#b4f07a" opacity="0.45" filter="url(#blur05)"/><path d="M440.7,335 L466.7,335 L466.7,342 Q466.7,348 453.7,348 Q440.7,348 440.7,342 Z" fill="#77cc3c"/><rect x="442.7" y="339.2" width="22" height="2.2" rx="1.1" fill="#b4f07a" opacity="0.7" filter="url(#blur05)"/><rect x="438.2" y="315" width="31" height="23" rx="4" fill="#77cc3c"/><rect x="439.4" y="316.2" width="28.6" height="20.6" rx="3" fill="none" stroke="#b4f07a" stroke-width="0.9" opacity="0.45"/><ellipse cx="447.2" cy="328.5" rx="7" ry="8" fill="#4a9a20" opacity="0.4" filter="url(#blur3)"/><path d="M413.0,196.8 A40,35.5 0 0 0 493.0,196.8 L479.0,196.8 A26,21.5 0 0 1 427.0,196.8 Z" fill="#77cc3c" stroke="#b4f07a" stroke-width="0.9" stroke-opacity="0.55"/><path d="M477.5,199.3 A25,20.5 0 0 1 464.0,216.3" fill="none" stroke="#b4f07a" stroke-width="2.4" opacity="0.95" filter="url(#blur05)"/><path d="M489.5,199.8 A36.5,32 0 0 1 476.0,221.8" fill="none" stroke="#b4f07a" stroke-width="1.6" opacity="0.75" filter="url(#blur05)"/>
<g filter="url(#blur4)" opacity="0.48"><path d="M547.0,181.8 A36,28 0 0 0 619.0,181.8 L606.0,181.8 A23,15 0 0 1 560.0,181.8 Z" fill="#3a4a4a"/></g><g filter="url(#blur5)" opacity="0.48"><rect x="575.2" y="244.8" width="21.5" height="70.19999999999999" fill="#404040"/><rect x="569.5" y="319" width="31" height="35" rx="4" fill="#303030"/></g><rect x="587.2" y="232.8" width="21.5" height="84.19999999999999" rx="4" fill="#1cb0f2"/><rect x="589.2" y="235.8" width="3" height="76.19999999999999" rx="1.5" fill="#8ae4ff" opacity="0.55" filter="url(#blur05)"/><rect x="605.2" y="235.8" width="1.6" height="76.19999999999999" rx="0.8" fill="#8ae4ff" opacity="0.45" filter="url(#blur05)"/><path d="M585.0,335 L611.0,335 L611.0,342 Q611.0,348 598.0,348 Q585.0,348 585.0,342 Z" fill="#1cb0f2"/><rect x="587.0" y="339.2" width="22" height="2.2" rx="1.1" fill="#8ae4ff" opacity="0.7" filter="url(#blur05)"/><rect x="582.5" y="315" width="31" height="23" rx="4" fill="#1cb0f2"/><rect x="583.7" y="316.2" width="28.6" height="20.6" rx="3" fill="none" stroke="#8ae4ff" stroke-width="0.9" opacity="0.45"/><ellipse cx="591.5" cy="328.5" rx="7" ry="8" fill="#0a7ac0" opacity="0.4" filter="url(#blur3)"/><path d="M558.0,196.8 A40,35.5 0 0 0 638.0,196.8 L624.0,196.8 A26,21.5 0 0 1 572.0,196.8 Z" fill="#1cb0f2" stroke="#8ae4ff" stroke-width="0.9" stroke-opacity="0.55"/><path d="M622.5,199.3 A25,20.5 0 0 1 609.0,216.3" fill="none" stroke="#8ae4ff" stroke-width="2.4" opacity="0.95" filter="url(#blur05)"/><path d="M634.5,199.8 A36.5,32 0 0 1 621.0,221.8" fill="none" stroke="#8ae4ff" stroke-width="1.6" opacity="0.75" filter="url(#blur05)"/>
<g filter="url(#blur4)" opacity="0.48"><path d="M801.0,185.5 A36,28 0 0 0 873.0,185.5 L860.0,185.5 A23,15 0 0 1 814.0,185.5 Z" fill="#3a4a4a"/></g><g filter="url(#blur5)" opacity="0.48"><rect x="830.8" y="248.5" width="21.5" height="69.5" fill="#404040"/><rect x="826.5" y="322" width="28" height="36" rx="4" fill="#303030"/></g><rect x="842.8" y="236.5" width="21.5" height="83.5" rx="4" fill="#77cc3c"/><rect x="844.8" y="239.5" width="3" height="75.5" rx="1.5" fill="#b4f07a" opacity="0.55" filter="url(#blur05)"/><rect x="860.8" y="239.5" width="1.6" height="75.5" rx="0.8" fill="#b4f07a" opacity="0.45" filter="url(#blur05)"/><path d="M842.0,340.5 L865.0,340.5 L865.0,346 Q865.0,352 853.5,352 Q842.0,352 842.0,346 Z" fill="#77cc3c"/><rect x="844.0" y="344.7" width="19" height="2.2" rx="1.1" fill="#b4f07a" opacity="0.7" filter="url(#blur05)"/><rect x="839.5" y="318" width="28" height="25.5" rx="4" fill="#77cc3c"/><rect x="840.7" y="319.2" width="25.6" height="23.1" rx="3" fill="none" stroke="#b4f07a" stroke-width="0.9" opacity="0.45"/><ellipse cx="848.5" cy="332.8" rx="7" ry="8" fill="#4a9a20" opacity="0.4" filter="url(#blur3)"/><path d="M812.0,200.5 A40,35.5 0 0 0 892.0,200.5 L878.0,200.5 A26,21.5 0 0 1 826.0,200.5 Z" fill="#77cc3c" stroke="#b4f07a" stroke-width="0.9" stroke-opacity="0.55"/><path d="M876.5,203.0 A25,20.5 0 0 1 863.0,220.0" fill="none" stroke="#b4f07a" stroke-width="2.4" opacity="0.95" filter="url(#blur05)"/><path d="M888.5,203.5 A36.5,32 0 0 1 875.0,225.5" fill="none" stroke="#b4f07a" stroke-width="1.6" opacity="0.75" filter="url(#blur05)"/>
<g filter="url(#blur4)" opacity="0.48"><path d="M877.0,185.5 A33,28 0 0 0 943.0,185.5 L930.0,185.5 A20,15 0 0 1 890.0,185.5 Z" fill="#3a4a4a"/></g><g filter="url(#blur5)" opacity="0.48"><rect x="898.8" y="248.5" width="21.5" height="69.5" fill="#404040"/><rect x="893.5" y="322" width="30" height="36" rx="4" fill="#303030"/></g><rect x="910.8" y="236.5" width="21.5" height="83.5" rx="4" fill="#a1a1f1"/><rect x="912.8" y="239.5" width="3" height="75.5" rx="1.5" fill="#d4d4ff" opacity="0.55" filter="url(#blur05)"/><rect x="928.8" y="239.5" width="1.6" height="75.5" rx="0.8" fill="#d4d4ff" opacity="0.45" filter="url(#blur05)"/><path d="M909.0,343 L934.0,343 L934.0,346 Q934.0,352 921.5,352 Q909.0,352 909.0,346 Z" fill="#a1a1f1"/><rect x="911.0" y="347.2" width="21" height="2.2" rx="1.1" fill="#d4d4ff" opacity="0.7" filter="url(#blur05)"/><rect x="906.5" y="318" width="30" height="28" rx="4" fill="#a1a1f1"/><rect x="907.7" y="319.2" width="27.6" height="25.6" rx="3" fill="none" stroke="#d4d4ff" stroke-width="0.9" opacity="0.45"/><ellipse cx="915.5" cy="334.0" rx="7" ry="8" fill="#7070c8" opacity="0.4" filter="url(#blur3)"/><path d="M888.0,200.5 A37,35.5 0 0 0 962.0,200.5 L948.0,200.5 A23,21.5 0 0 1 902.0,200.5 Z" fill="#a1a1f1" stroke="#d4d4ff" stroke-width="0.9" stroke-opacity="0.55"/><path d="M946.5,203.0 A22,20.5 0 0 1 936.0,220.0" fill="none" stroke="#d4d4ff" stroke-width="2.4" opacity="0.95" filter="url(#blur05)"/><path d="M958.5,203.5 A33.5,32 0 0 1 945.0,225.5" fill="none" stroke="#d4d4ff" stroke-width="1.6" opacity="0.75" filter="url(#blur05)"/>
<g filter="url(#blur6)" opacity="0.36"><ellipse cx="179" cy="63" rx="36" ry="20" fill="#3a3a3a"/><ellipse cx="124.4" cy="94.6" rx="27.6" ry="20" fill="#3a3a3a"/><ellipse cx="228" cy="97" rx="27" ry="20" fill="#3a3a3a"/><ellipse cx="176.8" cy="122" rx="26.8" ry="16" fill="#3a3a3a"/><ellipse cx="107" cy="140" rx="40" ry="20" fill="#3a3a3a"/><ellipse cx="251.39999999999998" cy="143.5" rx="28.3" ry="20" fill="#3a3a3a"/><ellipse cx="199" cy="165.8" rx="23" ry="20" fill="#3a3a3a"/></g>
<g filter="url(#blur6)" opacity="0.36"><ellipse cx="557.5" cy="64.5" rx="36" ry="19.5" fill="#3a3a3a"/><ellipse cx="617.5" cy="91.5" rx="27.7" ry="20" fill="#3a3a3a"/><ellipse cx="503" cy="107" rx="38" ry="19.8" fill="#3a3a3a"/><ellipse cx="570.7" cy="119.5" rx="27" ry="16" fill="#3a3a3a"/><ellipse cx="632.7" cy="136.5" rx="27.4" ry="19.5" fill="#3a3a3a"/><ellipse cx="539" cy="160" rx="31" ry="20" fill="#3a3a3a"/><ellipse cx="605.4" cy="178.6" rx="29.4" ry="20" fill="#3a3a3a"/><ellipse cx="666" cy="175" rx="23" ry="20" fill="#3a3a3a"/></g>
<g filter="url(#blur6)" opacity="0.36"><ellipse cx="425" cy="177.5" rx="34" ry="20.5" fill="#3a3a3a"/><ellipse cx="834" cy="184" rx="33.5" ry="20" fill="#3a3a3a"/></g>
<ellipse cx="192" cy="49" rx="36" ry="20" fill="url(#gOr)" stroke="#f6a060" stroke-width="0.8"/><path d="M162.3,39.9 A34.3,18.3 0 0 0 163.9,59.5" fill="none" stroke="#fff0c8" stroke-width="1.6" opacity="0.6" stroke-linecap="round" filter="url(#blur05)"/><path d="M226.0,46.5 A34.3,18.3 0 0 1 215.0,62.6" fill="none" stroke="#fff0c8" stroke-width="1.6" opacity="0.6" stroke-linecap="round" filter="url(#blur05)"/><text x="192" y="53.0" font-size="11.2" font-weight="bold" fill="#2a1608" stroke="#2a1608" stroke-width="0.3" text-anchor="middle" textLength="28.1" lengthAdjust="spacingAndGlyphs">TGF-a</text>
<ellipse cx="137.4" cy="80.6" rx="27.6" ry="20" fill="url(#gOr)" stroke="#f6a060" stroke-width="0.8"/><path d="M115.0,71.4 A25.9,18.3 0 0 0 116.2,91.1" fill="none" stroke="#fff0c8" stroke-width="1.6" opacity="0.6" stroke-linecap="round" filter="url(#blur05)"/><path d="M163.0,78.1 A25.9,18.3 0 0 1 154.7,94.2" fill="none" stroke="#fff0c8" stroke-width="1.6" opacity="0.6" stroke-linecap="round" filter="url(#blur05)"/><text x="137.4" y="84.6" font-size="11.2" font-weight="bold" fill="#2a1608" stroke="#2a1608" stroke-width="0.3" text-anchor="middle" textLength="20.0" lengthAdjust="spacingAndGlyphs">EFG</text>
<ellipse cx="241" cy="83" rx="27" ry="20" fill="url(#gOr)" stroke="#f6a060" stroke-width="0.8"/><path d="M219.1,73.8 A25.3,18.3 0 0 0 220.3,93.5" fill="none" stroke="#fff0c8" stroke-width="1.6" opacity="0.6" stroke-linecap="round" filter="url(#blur05)"/><path d="M266.1,80.5 A25.3,18.3 0 0 1 257.9,96.6" fill="none" stroke="#fff0c8" stroke-width="1.6" opacity="0.6" stroke-linecap="round" filter="url(#blur05)"/><text x="241" y="87.0" font-size="11.2" font-weight="bold" fill="#2a1608" stroke="#2a1608" stroke-width="0.3" text-anchor="middle" textLength="20.0" lengthAdjust="spacingAndGlyphs">BTC</text>
<ellipse cx="189.8" cy="108" rx="26.8" ry="16" fill="url(#gOr)" stroke="#f6a060" stroke-width="0.8"/><path d="M168.1,100.8 A25.1,14.3 0 0 0 169.2,116.2" fill="none" stroke="#fff0c8" stroke-width="1.6" opacity="0.6" stroke-linecap="round" filter="url(#blur05)"/><path d="M214.7,106.0 A25.1,14.3 0 0 1 206.6,118.6" fill="none" stroke="#fff0c8" stroke-width="1.6" opacity="0.6" stroke-linecap="round" filter="url(#blur05)"/><text x="189.8" y="112.0" font-size="11.2" font-weight="bold" fill="#2a1608" stroke="#2a1608" stroke-width="0.3" text-anchor="middle" textLength="20.0" lengthAdjust="spacingAndGlyphs">ERP</text>
<ellipse cx="120" cy="126" rx="40" ry="20" fill="url(#gOr)" stroke="#f6a060" stroke-width="0.8"/><path d="M86.8,116.8 A38.3,18.3 0 0 0 88.6,136.5" fill="none" stroke="#fff0c8" stroke-width="1.6" opacity="0.6" stroke-linecap="round" filter="url(#blur05)"/><path d="M157.9,123.5 A38.3,18.3 0 0 1 145.6,139.6" fill="none" stroke="#fff0c8" stroke-width="1.6" opacity="0.6" stroke-linecap="round" filter="url(#blur05)"/><text x="120" y="130.0" font-size="11.2" font-weight="bold" fill="#2a1608" stroke="#2a1608" stroke-width="0.3" text-anchor="middle" textLength="37.4" lengthAdjust="spacingAndGlyphs">HB-EGF</text>
<ellipse cx="264.4" cy="129.5" rx="28.3" ry="20" fill="url(#gOr)" stroke="#f6a060" stroke-width="0.8"/><path d="M241.4,120.3 A26.6,18.3 0 0 0 242.6,140.0" fill="none" stroke="#fff0c8" stroke-width="1.6" opacity="0.6" stroke-linecap="round" filter="url(#blur05)"/><path d="M290.7,127.0 A26.6,18.3 0 0 1 282.2,143.1" fill="none" stroke="#fff0c8" stroke-width="1.6" opacity="0.6" stroke-linecap="round" filter="url(#blur05)"/><text x="264.4" y="133.5" font-size="11.2" font-weight="bold" fill="#2a1608" stroke="#2a1608" stroke-width="0.3" text-anchor="middle" textLength="20.6" lengthAdjust="spacingAndGlyphs">EPG</text>
<ellipse cx="212" cy="151.8" rx="23" ry="20" fill="url(#gOr)" stroke="#f6a060" stroke-width="0.8"/><path d="M193.6,142.7 A21.3,18.3 0 0 0 194.6,162.3" fill="none" stroke="#fff0c8" stroke-width="1.6" opacity="0.6" stroke-linecap="round" filter="url(#blur05)"/><path d="M233.1,149.3 A21.3,18.3 0 0 1 226.3,165.4" fill="none" stroke="#fff0c8" stroke-width="1.6" opacity="0.6" stroke-linecap="round" filter="url(#blur05)"/><text x="212" y="155.8" font-size="11.2" font-weight="bold" fill="#2a1608" stroke="#2a1608" stroke-width="0.3" text-anchor="middle" textLength="14.1" lengthAdjust="spacingAndGlyphs">AR</text>
<ellipse cx="570.5" cy="50.5" rx="36" ry="19.5" fill="url(#gBl)" stroke="#9ccbf6" stroke-width="0.8"/><path d="M540.8,41.6 A34.3,17.8 0 0 0 542.4,60.7" fill="none" stroke="#fff0c8" stroke-width="1.6" opacity="0.6" stroke-linecap="round" filter="url(#blur05)"/><path d="M604.5,48.0 A34.3,17.8 0 0 1 593.5,63.7" fill="none" stroke="#fff0c8" stroke-width="1.6" opacity="0.6" stroke-linecap="round" filter="url(#blur05)"/><text x="570.5" y="54.5" font-size="11.2" font-weight="bold" fill="#0e1e40" stroke="#0e1e40" stroke-width="0.3" text-anchor="middle" textLength="28.1" lengthAdjust="spacingAndGlyphs">TGF-a</text>
<ellipse cx="630.5" cy="77.5" rx="27.7" ry="20" fill="url(#gBl)" stroke="#9ccbf6" stroke-width="0.8"/><path d="M608.0,68.3 A26.0,18.3 0 0 0 609.2,88.0" fill="none" stroke="#fff0c8" stroke-width="1.6" opacity="0.6" stroke-linecap="round" filter="url(#blur05)"/><path d="M656.2,75.0 A26.0,18.3 0 0 1 647.9,91.1" fill="none" stroke="#fff0c8" stroke-width="1.6" opacity="0.6" stroke-linecap="round" filter="url(#blur05)"/><text x="630.5" y="81.5" font-size="11.2" font-weight="bold" fill="#0e1e40" stroke="#0e1e40" stroke-width="0.3" text-anchor="middle" textLength="20.0" lengthAdjust="spacingAndGlyphs">BTC</text>
<ellipse cx="516" cy="93" rx="38" ry="19.8" fill="url(#gBl)" stroke="#9ccbf6" stroke-width="0.8"/><path d="M484.6,84.0 A36.3,18.1 0 0 0 486.3,103.4" fill="none" stroke="#fff0c8" stroke-width="1.6" opacity="0.6" stroke-linecap="round" filter="url(#blur05)"/><path d="M551.9,90.5 A36.3,18.1 0 0 1 540.3,106.5" fill="none" stroke="#fff0c8" stroke-width="1.6" opacity="0.6" stroke-linecap="round" filter="url(#blur05)"/><text x="516" y="97.0" font-size="11.2" font-weight="bold" fill="#0e1e40" stroke="#0e1e40" stroke-width="0.3" text-anchor="middle" textLength="20.0" lengthAdjust="spacingAndGlyphs">EFG</text>
<ellipse cx="583.7" cy="105.5" rx="27" ry="16" fill="url(#gBl)" stroke="#9ccbf6" stroke-width="0.8"/><path d="M561.8,98.3 A25.3,14.3 0 0 0 563.0,113.7" fill="none" stroke="#fff0c8" stroke-width="1.6" opacity="0.6" stroke-linecap="round" filter="url(#blur05)"/><path d="M608.8,103.5 A25.3,14.3 0 0 1 600.6,116.1" fill="none" stroke="#fff0c8" stroke-width="1.6" opacity="0.6" stroke-linecap="round" filter="url(#blur05)"/><text x="583.7" y="109.5" font-size="11.2" font-weight="bold" fill="#0e1e40" stroke="#0e1e40" stroke-width="0.3" text-anchor="middle" textLength="20.0" lengthAdjust="spacingAndGlyphs">ERP</text>
<ellipse cx="645.7" cy="122.5" rx="27.4" ry="19.5" fill="url(#gBl)" stroke="#9ccbf6" stroke-width="0.8"/><path d="M623.4,113.6 A25.7,17.8 0 0 0 624.6,132.7" fill="none" stroke="#fff0c8" stroke-width="1.6" opacity="0.6" stroke-linecap="round" filter="url(#blur05)"/><path d="M671.1,120.0 A25.7,17.8 0 0 1 662.9,135.7" fill="none" stroke="#fff0c8" stroke-width="1.6" opacity="0.6" stroke-linecap="round" filter="url(#blur05)"/><text x="645.7" y="126.5" font-size="11.2" font-weight="bold" fill="#0e1e40" stroke="#0e1e40" stroke-width="0.3" text-anchor="middle" textLength="20.6" lengthAdjust="spacingAndGlyphs">EPG</text>
<ellipse cx="552" cy="146" rx="31" ry="20" fill="url(#gBl)" stroke="#9ccbf6" stroke-width="0.8"/><path d="M526.6,136.8 A29.3,18.3 0 0 0 528.0,156.5" fill="none" stroke="#fff0c8" stroke-width="1.6" opacity="0.6" stroke-linecap="round" filter="url(#blur05)"/><path d="M581.0,143.5 A29.3,18.3 0 0 1 571.6,159.6" fill="none" stroke="#fff0c8" stroke-width="1.6" opacity="0.6" stroke-linecap="round" filter="url(#blur05)"/><text x="551" y="141.5" font-size="11.2" font-weight="bold" fill="#0e1e40" stroke="#0e1e40" stroke-width="0.3" text-anchor="middle" textLength="17.3" lengthAdjust="spacingAndGlyphs">HB-</text><text x="552" y="156.0" font-size="11.2" font-weight="bold" fill="#0e1e40" stroke="#0e1e40" stroke-width="0.3" text-anchor="middle" textLength="20.0" lengthAdjust="spacingAndGlyphs">EGF</text>
<ellipse cx="618.4" cy="164.6" rx="29.4" ry="20" fill="url(#gBl)" stroke="#9ccbf6" stroke-width="0.8"/><path d="M594.4,155.4 A27.7,18.3 0 0 0 595.7,175.1" fill="none" stroke="#fff0c8" stroke-width="1.6" opacity="0.6" stroke-linecap="round" filter="url(#blur05)"/><path d="M645.8,162.1 A27.7,18.3 0 0 1 636.9,178.2" fill="none" stroke="#fff0c8" stroke-width="1.6" opacity="0.6" stroke-linecap="round" filter="url(#blur05)"/><text x="618.4" y="168.6" font-size="11.2" font-weight="bold" fill="#0e1e40" stroke="#0e1e40" stroke-width="0.3" text-anchor="middle" textLength="14.1" lengthAdjust="spacingAndGlyphs">AR</text>
<ellipse cx="679" cy="161" rx="23" ry="20" fill="url(#gBl)" stroke="#9ccbf6" stroke-width="0.8"/><path d="M660.6,151.8 A21.3,18.3 0 0 0 661.6,171.5" fill="none" stroke="#fff0c8" stroke-width="1.6" opacity="0.6" stroke-linecap="round" filter="url(#blur05)"/><path d="M700.1,158.5 A21.3,18.3 0 0 1 693.3,174.6" fill="none" stroke="#fff0c8" stroke-width="1.6" opacity="0.6" stroke-linecap="round" filter="url(#blur05)"/><text x="679" y="165.0" font-size="11.2" font-weight="bold" fill="#0e1e40" stroke="#0e1e40" stroke-width="0.3" text-anchor="middle" textLength="14.1" lengthAdjust="spacingAndGlyphs">AR</text>
<ellipse cx="438" cy="163.5" rx="34" ry="20.5" fill="url(#gGr)" stroke="#4f9440" stroke-width="0.8"/><path d="M410.0,154.1 A32.3,18.8 0 0 0 411.5,174.3" fill="none" stroke="#fff0c8" stroke-width="1.6" opacity="0.6" stroke-linecap="round" filter="url(#blur05)"/><path d="M470.0,160.9 A32.3,18.8 0 0 1 459.6,177.5" fill="none" stroke="#fff0c8" stroke-width="1.6" opacity="0.6" stroke-linecap="round" filter="url(#blur05)"/><text x="438" y="167.5" font-size="10.5" font-weight="bold" fill="#0c1a08" stroke="#0c1a08" stroke-width="0.3" text-anchor="middle" textLength="25.4" lengthAdjust="spacingAndGlyphs">NRG1</text>
<ellipse cx="847" cy="170" rx="33.5" ry="20" fill="url(#gGr)" stroke="#4f9440" stroke-width="0.8"/><path d="M819.5,160.8 A31.8,18.3 0 0 0 821.0,180.5" fill="none" stroke="#fff0c8" stroke-width="1.6" opacity="0.6" stroke-linecap="round" filter="url(#blur05)"/><path d="M878.5,167.5 A31.8,18.3 0 0 1 868.3,183.6" fill="none" stroke="#fff0c8" stroke-width="1.6" opacity="0.6" stroke-linecap="round" filter="url(#blur05)"/><text x="847" y="174.0" font-size="11" font-weight="bold" fill="#0c1a08" stroke="#0c1a08" stroke-width="0.3" text-anchor="middle" textLength="26.6" lengthAdjust="spacingAndGlyphs">NRG1</text>
<text x="21.2" y="194.8" font-size="13.3" font-weight="normal" fill="#111111" stroke="#111111" stroke-width="0.45" text-anchor="start" textLength="91.8" lengthAdjust="spacingAndGlyphs">Ligand Binding</text>
<text x="21.2" y="214.5" font-size="13.3" font-weight="normal" fill="#111111" stroke="#111111" stroke-width="0.45" text-anchor="start" textLength="48" lengthAdjust="spacingAndGlyphs">Domain</text>
<text x="17" y="351" font-size="13.3" font-weight="normal" fill="#111111" stroke="#111111" stroke-width="0.45" text-anchor="start" textLength="94.2" lengthAdjust="spacingAndGlyphs">Kinase Domain</text>
<text x="122.4" y="374.4" font-size="15.8" font-weight="normal" fill="#111111" stroke="#111111" stroke-width="0.6" text-anchor="start" textLength="82" lengthAdjust="spacingAndGlyphs">EGFR/HER1</text>
<text x="283" y="373" font-size="15.8" font-weight="normal" fill="#111111" stroke="#111111" stroke-width="0.6" text-anchor="start" textLength="36.6" lengthAdjust="spacingAndGlyphs">HER2</text>
<text x="435" y="373" font-size="15.8" font-weight="normal" fill="#111111" stroke="#111111" stroke-width="0.6" text-anchor="start" textLength="37.4" lengthAdjust="spacingAndGlyphs">HER3</text>
<text x="582.4" y="374.4" font-size="15.8" font-weight="normal" fill="#111111" stroke="#111111" stroke-width="0.6" text-anchor="start" textLength="37.6" lengthAdjust="spacingAndGlyphs">HER4</text>
<text x="783.6" y="367.6" font-size="15.8" font-weight="normal" fill="#111111" stroke="#111111" stroke-width="0.6" text-anchor="start" textLength="37.6" lengthAdjust="spacingAndGlyphs">HER3</text>
<text x="947.3" y="361" font-size="15.8" font-weight="normal" fill="#111111" stroke="#111111" stroke-width="0.6" text-anchor="start" textLength="37" lengthAdjust="spacingAndGlyphs">HER2</text>
<text x="700" y="203.7" font-size="13.6" font-weight="normal" fill="#111111" stroke="#111111" stroke-width="0.45" text-anchor="start" textLength="70.5" lengthAdjust="spacingAndGlyphs">HER Family</text>
<text x="695.6" y="222.4" font-size="13.6" font-weight="normal" fill="#111111" stroke="#111111" stroke-width="0.45" text-anchor="start" textLength="79.4" lengthAdjust="spacingAndGlyphs">dimerization</text>
<text x="953.6" y="133.2" font-size="13.6" font-weight="normal" fill="#111111" stroke="#111111" stroke-width="0.45" text-anchor="start" textLength="118.4" lengthAdjust="spacingAndGlyphs">Extracellular space</text>
<text x="1012.7" y="458.7" font-size="13.6" font-weight="normal" fill="#111111" stroke="#111111" stroke-width="0.45" text-anchor="start" textLength="66.5" lengthAdjust="spacingAndGlyphs">Cytoplasm</text>
<text x="57.5" y="443.5" font-size="14" font-weight="normal" fill="#111111" stroke="#111111" stroke-width="0.45" text-anchor="start" textLength="75" lengthAdjust="spacingAndGlyphs">HER1 ligand</text>
<text x="57.5" y="480.7" font-size="14" font-weight="normal" fill="#111111" stroke="#111111" stroke-width="0.45" text-anchor="start" textLength="75" lengthAdjust="spacingAndGlyphs">HER3 ligand</text>
<text x="56.6" y="517.2" font-size="14" font-weight="normal" fill="#111111" stroke="#111111" stroke-width="0.45" text-anchor="start" textLength="74.4" lengthAdjust="spacingAndGlyphs">HER4 ligand</text>
<line x1="127" y1="208.2" x2="96" y2="208.2" stroke="#3a78b8" stroke-width="1"/>
<path d="M91.5,208.2 L97,205.6 L97,210.8 Z" fill="#3a78b8"/>
<line x1="144.5" y1="326.2" x2="90" y2="334.8" stroke="#3a78b8" stroke-width="1"/>
<path d="M85.7,335.5 L91.2,332.2 L92,337.2 Z" fill="#3a78b8"/>
<line x1="680.4" y1="230.4" x2="787" y2="230.4" stroke="#1a2a2a" stroke-width="1.1"/>
<path d="M793.5,230.4 L786,227 L786,233.8 Z" fill="#111"/>
<g filter="url(#blur4)" opacity="0.5"><ellipse cx="22" cy="451" rx="6" ry="10" fill="#333"/><ellipse cx="22" cy="489" rx="6" ry="10" fill="#333"/><ellipse cx="22" cy="527" rx="6" ry="10" fill="#333"/></g>
<circle cx="38.9" cy="438.2" r="9.6" fill="url(#gL1)" stroke="#d06a30" stroke-width="1"/>
<path d="M31.4,436.2 A8,8 0 0 0 35.9,445.2" fill="none" stroke="#ffffff" stroke-width="1.1" opacity="0.6"/>
<path d="M46.4,436.2 A8,8 0 0 1 41.9,445.2" fill="none" stroke="#ffffff" stroke-width="1.1" opacity="0.5"/>
<circle cx="38.9" cy="475.4" r="9.6" fill="url(#gL3)" stroke="#3a8030" stroke-width="1"/>
<path d="M31.4,473.4 A8,8 0 0 0 35.9,482.4" fill="none" stroke="#ffffff" stroke-width="1.1" opacity="0.6"/>
<path d="M46.4,473.4 A8,8 0 0 1 41.9,482.4" fill="none" stroke="#ffffff" stroke-width="1.1" opacity="0.5"/>
<circle cx="38.9" cy="512.9" r="9.6" fill="url(#gL4)" stroke="#5aa0f0" stroke-width="1"/>
<path d="M31.4,510.9 A8,8 0 0 0 35.9,519.9" fill="none" stroke="#ffffff" stroke-width="1.1" opacity="0.6"/>
<path d="M46.4,510.9 A8,8 0 0 1 41.9,519.9" fill="none" stroke="#ffffff" stroke-width="1.1" opacity="0.5"/>
<circle cx="241.8" cy="461.0" r="1.9" fill="#111"/>
<text x="255" y="465.3" font-size="13.6" font-weight="normal" fill="#111111" stroke="#111111" stroke-width="0.45" text-anchor="start" textLength="78.6" lengthAdjust="spacingAndGlyphs">Proliferation</text>
<circle cx="241.8" cy="480.4" r="1.9" fill="#111"/>
<text x="255" y="484.7" font-size="13.6" font-weight="normal" fill="#111111" stroke="#111111" stroke-width="0.45" text-anchor="start" textLength="49.7" lengthAdjust="spacingAndGlyphs">Motility</text>
<circle cx="241.8" cy="499.0" r="1.9" fill="#111"/>
<text x="255" y="503.3" font-size="13.6" font-weight="normal" fill="#111111" stroke="#111111" stroke-width="0.45" text-anchor="start" textLength="78.6" lengthAdjust="spacingAndGlyphs">Invasiveness</text>
<circle cx="241.8" cy="517.7" r="1.9" fill="#111"/>
<text x="255" y="522" font-size="13.6" font-weight="normal" fill="#111111" stroke="#111111" stroke-width="0.45" text-anchor="start" textLength="149.5" lengthAdjust="spacingAndGlyphs">Resistance to apoptosis</text>
<circle cx="241.8" cy="535.5" r="1.9" fill="#111"/>
<text x="255" y="539.8" font-size="13.6" font-weight="normal" fill="#111111" stroke="#111111" stroke-width="0.45" text-anchor="start" textLength="83.4" lengthAdjust="spacingAndGlyphs">Angiogenesis</text>
<path d="M400,444.2 Q418.5,444 418.5,462 L418.5,487 Q418.5,499.5 426,500.3 Q418.5,501 418.5,514 L418.5,537 Q418.5,555 400,554.8" fill="none" stroke="#7f9cbc" stroke-width="1.2"/>
<ellipse cx="554" cy="500.6" rx="130" ry="107" fill="url(#gNuc)"/>
<ellipse cx="554" cy="500.6" rx="129.5" ry="106.5" fill="none" stroke="#9c9478" stroke-width="2.8" stroke-dasharray="0.01 5.9" stroke-linecap="round"/>
<line x1="424" y1="500.3" x2="436.5" y2="500.3" stroke="#6f8aa8" stroke-width="1.2"/>
<text x="533.8" y="460.5" font-size="13.6" font-weight="normal" fill="#111111" stroke="#111111" stroke-width="0.45" text-anchor="start" textLength="50.2" lengthAdjust="spacingAndGlyphs">Nucleus</text>
<path d="M452.0,500.0 L453.5,500.9 L455.0,501.7 L456.5,502.6 L458.0,503.5 L459.5,504.4 L461.0,505.2 L462.5,506.1 L464.0,506.9 L465.5,507.7 L467.0,508.6 L468.5,509.4 L470.0,510.2 L471.5,511.0 L473.0,511.7 L474.5,512.5 L476.0,513.2 L477.5,513.9 L479.0,514.6 L480.5,515.3 L482.0,515.9 L483.5,516.5 L485.0,517.1 L486.5,517.7 L488.0,518.2 L489.5,518.7 L491.0,519.2 L492.5,519.6 L494.0,520.0 L495.5,520.4 L497.0,520.8 L498.5,521.1 L500.0,521.4 L501.5,521.6 L503.0,521.8 L504.5,522.0 L506.0,522.2 L507.5,522.3 L509.0,522.4 L510.5,522.4 L512.0,522.3 L512.0,525.6 L510.5,525.6 L509.0,525.6 L507.5,525.6 L506.0,525.6 L504.5,525.5 L503.0,525.4 L501.5,525.2 L500.0,525.1 L498.5,524.8 L497.0,524.6 L495.5,524.3 L494.0,524.0 L492.5,523.6 L491.0,523.3 L489.5,522.8 L488.0,522.4 L486.5,521.9 L485.0,521.4 L483.5,520.9 L482.0,520.3 L480.5,519.7 L479.0,519.1 L477.5,518.5 L476.0,517.8 L474.5,517.1 L473.0,516.4 L471.5,515.7 L470.0,515.0 L468.5,514.2 L467.0,513.4 L465.5,512.6 L464.0,511.8 L462.5,511.0 L461.0,510.2 L459.5,509.3 L458.0,508.5 L456.5,507.6 L455.0,506.7 L453.5,505.9 L452.0,505.0 Z" fill="#f39a20"/><path d="M452.0,505.0 L453.5,505.9 L455.0,506.7 L456.5,507.6 L458.0,508.5 L459.5,509.3 L461.0,510.2 L462.5,511.0 L464.0,511.8 L465.5,512.6 L467.0,513.4 L468.5,514.2 L470.0,515.0 L471.5,515.7 L473.0,516.4 L474.5,517.1 L476.0,517.8 L477.5,518.5 L479.0,519.1 L480.5,519.7 L482.0,520.3 L483.5,520.9 L485.0,521.4 L486.5,521.9 L488.0,522.4 L489.5,522.8 L491.0,523.3 L492.5,523.6 L494.0,524.0 L495.5,524.3 L497.0,524.6 L498.5,524.8 L500.0,525.1 L501.5,525.2 L503.0,525.4 L504.5,525.5 L506.0,525.6 L507.5,525.6 L509.0,525.6 L510.5,525.6 L512.0,525.6" fill="none" stroke="#ef6b1c" stroke-width="1.6"/><path d="M567.0,499.4 L568.2,499.6 L569.4,500.4 L570.6,501.1 L571.8,501.8 L573.0,502.6 L574.2,503.3 L575.4,504.0 L576.6,504.7 L577.8,505.5 L579.0,506.2 L580.2,506.9 L581.4,507.5 L582.6,508.2 L583.8,508.9 L585.0,509.6 L586.2,510.2 L587.4,510.8 L588.6,511.4 L589.8,512.0 L591.0,512.6 L592.2,513.2 L593.4,513.7 L594.6,514.3 L595.8,514.8 L597.0,515.3 L598.2,515.7 L599.4,516.2 L600.6,516.6 L601.8,517.0 L603.0,517.4 L604.2,517.7 L605.4,518.0 L606.6,518.3 L607.8,518.6 L609.0,518.9 L610.2,519.1 L611.4,519.3 L612.6,519.5 L613.8,519.6 L615.0,519.7 L615.0,523.1 L613.8,523.0 L612.6,523.0 L611.4,522.9 L610.2,522.7 L609.0,522.6 L607.8,522.4 L606.6,522.2 L605.4,521.9 L604.2,521.7 L603.0,521.4 L601.8,521.1 L600.6,520.7 L599.4,520.4 L598.2,520.0 L597.0,519.6 L595.8,519.1 L594.6,518.7 L593.4,518.2 L592.2,517.7 L591.0,517.2 L589.8,516.6 L588.6,516.1 L587.4,515.5 L586.2,514.9 L585.0,514.3 L583.8,513.7 L582.6,513.0 L581.4,512.4 L580.2,511.7 L579.0,511.1 L577.8,510.4 L576.6,509.7 L575.4,509.0 L574.2,508.3 L573.0,507.5 L571.8,506.8 L570.6,506.1 L569.4,505.4 L568.2,504.6 L567.0,504.4 Z" fill="#f39a20"/><path d="M567.0,504.4 L568.2,504.6 L569.4,505.4 L570.6,506.1 L571.8,506.8 L573.0,507.5 L574.2,508.3 L575.4,509.0 L576.6,509.7 L577.8,510.4 L579.0,511.1 L580.2,511.7 L581.4,512.4 L582.6,513.0 L583.8,513.7 L585.0,514.3 L586.2,514.9 L587.4,515.5 L588.6,516.1 L589.8,516.6 L591.0,517.2 L592.2,517.7 L593.4,518.2 L594.6,518.7 L595.8,519.1 L597.0,519.6 L598.2,520.0 L599.4,520.4 L600.6,520.7 L601.8,521.1 L603.0,521.4 L604.2,521.7 L605.4,521.9 L606.6,522.2 L607.8,522.4 L609.0,522.6 L610.2,522.7 L611.4,522.9 L612.6,523.0 L613.8,523.0 L615.0,523.1" fill="none" stroke="#ef6b1c" stroke-width="1.6"/><path d="M610.0,481.3 L611.5,481.1 L612.9,481.0 L614.4,480.9 L615.8,480.9 L617.2,480.9 L618.7,480.9 L620.1,480.9 L621.6,480.9 L623.0,481.0 L624.5,481.1 L626.0,481.3 L627.4,481.5 L628.9,481.7 L630.3,482.0 L631.8,482.3 L633.2,482.7 L634.6,483.1 L636.1,483.5 L637.5,483.9 L639.0,484.4 L640.5,485.0 L641.9,485.5 L643.4,486.1 L644.8,486.7 L646.2,487.4 L647.7,488.1 L649.1,488.8 L650.6,489.5 L652.0,490.2 L653.5,491.0 L655.0,491.8 L656.4,492.6 L657.9,493.4 L659.3,494.3 L660.8,495.1 L662.2,496.0 L663.6,496.9 L665.1,497.7 L666.5,498.6 L668.0,499.5 L668.0,504.5 L666.5,503.6 L665.1,502.7 L663.6,501.8 L662.2,501.0 L660.8,500.1 L659.3,499.2 L657.9,498.3 L656.4,497.5 L655.0,496.7 L653.5,495.8 L652.0,495.0 L650.6,494.2 L649.1,493.5 L647.7,492.7 L646.2,492.0 L644.8,491.3 L643.4,490.6 L641.9,490.0 L640.5,489.3 L639.0,488.7 L637.5,488.2 L636.1,487.7 L634.6,487.2 L633.2,486.7 L631.8,486.3 L630.3,485.9 L628.9,485.5 L627.4,485.2 L626.0,484.9 L624.5,484.7 L623.0,484.5 L621.6,484.3 L620.1,484.2 L618.7,484.1 L617.2,484.1 L615.8,484.2 L614.4,484.3 L612.9,484.5 L611.5,484.7 L610.0,484.9 Z" fill="#f5b020"/><path d="M610.0,484.9 L611.5,484.7 L612.9,484.5 L614.4,484.3 L615.8,484.2 L617.2,484.1 L618.7,484.1 L620.1,484.2 L621.6,484.3 L623.0,484.5 L624.5,484.7 L626.0,484.9 L627.4,485.2 L628.9,485.5 L630.3,485.9 L631.8,486.3 L633.2,486.7 L634.6,487.2 L636.1,487.7 L637.5,488.2 L639.0,488.7 L640.5,489.3 L641.9,490.0 L643.4,490.6 L644.8,491.3 L646.2,492.0 L647.7,492.7 L649.1,493.5 L650.6,494.2 L652.0,495.0 L653.5,495.8 L655.0,496.7 L656.4,497.5 L657.9,498.3 L659.3,499.2 L660.8,500.1 L662.2,501.0 L663.6,501.8 L665.1,502.7 L666.5,503.6 L668.0,504.5" fill="none" stroke="#ef6b1c" stroke-width="1.6"/><line x1="479.3" y1="497" x2="479.3" y2="506.0" stroke="#e8c33a" stroke-width="5.2"/><line x1="479.3" y1="506.0" x2="479.3" y2="515" stroke="#2f8fe0" stroke-width="5.2"/><line x1="495.2" y1="489" x2="495.2" y2="504.3" stroke="#e0342a" stroke-width="5.2"/><line x1="495.2" y1="504.3" x2="495.2" y2="519.6" stroke="#35a040" stroke-width="5.2"/><line x1="510" y1="484.8" x2="510.0" y2="503.1" stroke="#3f8fe0" stroke-width="5.2"/><line x1="510.0" y1="503.1" x2="510" y2="521.4" stroke="#e0c040" stroke-width="5.2"/><line x1="523" y1="484.8" x2="523.0" y2="502.8" stroke="#35a040" stroke-width="5.2"/><line x1="523.0" y1="502.8" x2="523" y2="520.8" stroke="#e0342a" stroke-width="5.2"/><line x1="535.4" y1="489" x2="538.0" y2="502.2" stroke="#3f8fe0" stroke-width="5.2"/><line x1="538.0" y1="502.2" x2="540.7" y2="515.5" stroke="#e0c040" stroke-width="5.2"/><line x1="547.2" y1="494" x2="550.8" y2="501.5" stroke="#35a040" stroke-width="5.2"/><line x1="550.8" y1="501.5" x2="554.3" y2="509" stroke="#e0342a" stroke-width="5.2"/><line x1="558.5" y1="501" x2="563.2" y2="501.8" stroke="#e0c040" stroke-width="5.2"/><line x1="563.2" y1="501.8" x2="568" y2="502.5" stroke="#3f8fe0" stroke-width="5.2"/><line x1="591.6" y1="496.6" x2="589.0" y2="506.1" stroke="#e0c040" stroke-width="5.2"/><line x1="589.0" y1="506.1" x2="586.3" y2="515.5" stroke="#3f8fe0" stroke-width="5.2"/><line x1="604.6" y1="489" x2="602.5" y2="503.8" stroke="#35a040" stroke-width="5.2"/><line x1="602.5" y1="503.8" x2="600.5" y2="518.5" stroke="#e0342a" stroke-width="5.2"/><line x1="613.5" y1="487.7" x2="614.1" y2="503.4" stroke="#e0c040" stroke-width="5.2"/><line x1="614.1" y1="503.4" x2="614.7" y2="519" stroke="#3f8fe0" stroke-width="5.2"/><line x1="621.8" y1="489" x2="625.6" y2="503.1" stroke="#35a040" stroke-width="5.2"/><line x1="625.6" y1="503.1" x2="629.5" y2="517.3" stroke="#e0342a" stroke-width="5.2"/><line x1="629.5" y1="493.6" x2="636.2" y2="501.6" stroke="#3f8fe0" stroke-width="5.2"/><line x1="636.2" y1="501.6" x2="643" y2="509.6" stroke="#e0c040" stroke-width="5.2"/><line x1="639" y1="499" x2="646.6" y2="501.6" stroke="#e0342a" stroke-width="5.2"/><line x1="646.6" y1="501.6" x2="654.3" y2="504.3" stroke="#35a040" stroke-width="5.2"/><path d="M452.0,498.0 L454.9,496.3 L457.9,494.6 L460.8,493.0 L463.7,491.4 L466.6,489.9 L469.6,488.5 L472.5,487.1 L475.4,485.8 L478.3,484.6 L481.2,483.5 L484.2,482.5 L487.1,481.7 L490.0,480.9 L492.9,480.3 L495.9,479.8 L498.8,479.4 L501.7,479.2 L504.6,479.1 L507.6,479.2 L510.5,479.3 L513.4,479.1 L516.4,479.1 L519.3,479.3 L522.2,479.6 L525.1,480.0 L528.0,480.5 L531.0,481.2 L533.9,482.0 L536.8,482.9 L539.8,483.9 L542.7,485.0 L545.6,486.2 L548.5,487.6 L551.5,489.0 L554.4,490.4 L557.3,492.0 L560.2,493.6 L563.1,495.2 L566.1,496.9 L569.0,498.1 L569.0,507.1 L566.1,505.9 L563.1,504.2 L560.2,502.4 L557.3,500.7 L554.4,499.1 L551.5,497.4 L548.5,495.8 L545.6,494.2 L542.7,492.7 L539.8,491.3 L536.8,490.0 L533.9,488.7 L531.0,487.6 L528.0,486.5 L525.1,485.6 L522.2,484.8 L519.3,484.1 L516.4,483.5 L513.4,483.1 L510.5,482.7 L507.6,482.9 L504.6,483.3 L501.7,483.9 L498.8,484.5 L495.9,485.3 L492.9,486.2 L490.0,487.2 L487.1,488.3 L484.2,489.6 L481.2,490.9 L478.3,492.3 L475.4,493.7 L472.5,495.3 L469.6,496.9 L466.6,498.5 L463.7,500.2 L460.8,501.9 L457.9,503.6 L454.9,505.3 L452.0,507.0 Z" fill="#fbc91d"/><path d="M452.0,507.0 L454.9,505.3 L457.9,503.6 L460.8,501.9 L463.7,500.2 L466.6,498.5 L469.6,496.9 L472.5,495.3 L475.4,493.7 L478.3,492.3 L481.2,490.9 L484.2,489.6 L487.1,488.3 L490.0,487.2 L492.9,486.2 L495.9,485.3 L498.8,484.5 L501.7,483.9 L504.6,483.3 L507.6,482.9 L510.5,482.7 L513.4,483.1 L516.4,483.5 L519.3,484.1 L522.2,484.8 L525.1,485.6 L528.0,486.5 L531.0,487.6 L533.9,488.7 L536.8,490.0 L539.8,491.3 L542.7,492.7 L545.6,494.2 L548.5,495.8 L551.5,497.4 L554.4,499.1 L557.3,500.7 L560.2,502.4 L563.1,504.2 L566.1,505.9 L569.0,507.1" fill="none" stroke="#ef6b1c" stroke-width="1.6"/><path d="M613.0,519.1 L614.4,519.4 L615.8,519.6 L617.2,519.7 L618.6,519.7 L620.0,519.6 L621.4,519.4 L622.8,519.2 L624.2,518.9 L625.6,518.6 L627.0,518.2 L628.4,517.9 L629.8,517.5 L631.2,517.0 L632.6,516.5 L634.0,516.0 L635.4,515.5 L636.8,514.9 L638.2,514.3 L639.6,513.7 L641.0,513.1 L642.4,512.4 L643.8,511.7 L645.2,511.0 L646.6,510.3 L648.0,509.5 L649.4,508.7 L650.8,507.9 L652.2,507.1 L653.6,506.3 L655.0,505.5 L656.4,504.6 L657.8,503.8 L659.2,502.9 L660.6,502.1 L662.0,501.2 L663.4,500.3 L664.8,499.5 L666.2,498.6 L667.6,497.7 L669.0,496.9 L669.0,505.9 L667.6,506.7 L666.2,507.6 L664.8,508.4 L663.4,509.3 L662.0,510.1 L660.6,510.9 L659.2,511.7 L657.8,512.5 L656.4,513.3 L655.0,514.0 L653.6,514.7 L652.2,515.4 L650.8,516.1 L649.4,516.8 L648.0,517.4 L646.6,518.0 L645.2,518.6 L643.8,519.2 L642.4,519.7 L641.0,520.2 L639.6,520.6 L638.2,521.1 L636.8,521.5 L635.4,521.8 L634.0,522.1 L632.6,522.4 L631.2,522.7 L629.8,522.9 L628.4,523.1 L627.0,523.2 L625.6,523.3 L624.2,523.4 L622.8,523.4 L621.4,523.4 L620.0,523.3 L618.6,523.2 L617.2,523.3 L615.8,523.3 L614.4,523.4 L613.0,523.4 Z" fill="#fbc91d"/><path d="M613.0,523.4 L614.4,523.4 L615.8,523.3 L617.2,523.3 L618.6,523.2 L620.0,523.3 L621.4,523.4 L622.8,523.4 L624.2,523.4 L625.6,523.3 L627.0,523.2 L628.4,523.1 L629.8,522.9 L631.2,522.7 L632.6,522.4 L634.0,522.1 L635.4,521.8 L636.8,521.5 L638.2,521.1 L639.6,520.6 L641.0,520.2 L642.4,519.7 L643.8,519.2 L645.2,518.6 L646.6,518.0 L648.0,517.4 L649.4,516.8 L650.8,516.1 L652.2,515.4 L653.6,514.7 L655.0,514.0 L656.4,513.3 L657.8,512.5 L659.2,511.7 L660.6,510.9 L662.0,510.1 L663.4,509.3 L664.8,508.4 L666.2,507.6 L667.6,506.7 L669.0,505.9" fill="none" stroke="#ef6b1c" stroke-width="1.6"/><path d="M510.0,522.3 L512.5,522.1 L515.1,521.7 L517.6,521.3 L520.2,520.7 L522.8,520.1 L525.3,519.4 L527.9,518.5 L530.4,517.6 L533.0,516.6 L535.5,515.6 L538.0,514.5 L540.6,513.3 L543.1,512.0 L545.7,510.7 L548.2,509.4 L550.8,508.0 L553.4,506.5 L555.9,505.1 L558.5,503.6 L561.0,502.1 L563.5,500.6 L566.1,499.1 L568.6,497.1 L571.2,495.6 L573.8,494.0 L576.3,492.6 L578.9,491.1 L581.4,489.8 L584.0,488.5 L586.5,487.3 L589.0,486.1 L591.6,485.1 L594.1,484.1 L596.7,483.3 L599.2,482.5 L601.8,481.9 L604.4,481.4 L606.9,481.0 L609.5,480.8 L612.0,480.6 L612.0,485.1 L609.5,485.6 L606.9,486.3 L604.4,487.1 L601.8,488.0 L599.2,489.0 L596.7,490.1 L594.1,491.3 L591.6,492.6 L589.0,493.9 L586.5,495.3 L584.0,496.8 L581.4,498.3 L578.9,499.8 L576.3,501.4 L573.8,503.0 L571.2,504.5 L568.6,506.1 L566.1,508.1 L563.5,509.6 L561.0,511.0 L558.5,512.4 L555.9,513.8 L553.4,515.1 L550.8,516.4 L548.2,517.6 L545.7,518.7 L543.1,519.8 L540.6,520.8 L538.0,521.7 L535.5,522.6 L533.0,523.3 L530.4,524.0 L527.9,524.5 L525.3,525.0 L522.8,525.4 L520.2,525.6 L517.6,525.8 L515.1,525.9 L512.5,525.8 L510.0,525.7 Z" fill="#fbc91d"/><path d="M510.0,525.7 L512.5,525.8 L515.1,525.9 L517.6,525.8 L520.2,525.6 L522.8,525.4 L525.3,525.0 L527.9,524.5 L530.4,524.0 L533.0,523.3 L535.5,522.6 L538.0,521.7 L540.6,520.8 L543.1,519.8 L545.7,518.7 L548.2,517.6 L550.8,516.4 L553.4,515.1 L555.9,513.8 L558.5,512.4 L561.0,511.0 L563.5,509.6 L566.1,508.1 L568.6,506.1 L571.2,504.5 L573.8,503.0 L576.3,501.4 L578.9,499.8 L581.4,498.3 L584.0,496.8 L586.5,495.3 L589.0,493.9 L591.6,492.6 L594.1,491.3 L596.7,490.1 L599.2,489.0 L601.8,488.0 L604.4,487.1 L606.9,486.3 L609.5,485.6 L612.0,485.1" fill="none" stroke="#ef6b1c" stroke-width="1.6"/>
<ellipse cx="827.9" cy="399" rx="27.5" ry="18.5" fill="#f4eea0" opacity="0.85" filter="url(#blur2)"/><ellipse cx="827.9" cy="399" rx="23.5" ry="14.5" fill="url(#gSig)" stroke="#86c24a" stroke-width="1.3"/><text x="816" y="405" font-size="13.4" font-weight="normal" fill="#111111" stroke="#111111" stroke-width="0.45" text-anchor="start" textLength="27.6" lengthAdjust="spacingAndGlyphs">PI3K</text>
<ellipse cx="828" cy="450.3" rx="27.5" ry="18.5" fill="#f4eea0" opacity="0.85" filter="url(#blur2)"/><ellipse cx="828" cy="450.3" rx="23.5" ry="14.5" fill="url(#gSig)" stroke="#86c24a" stroke-width="1.3"/><text x="818" y="456" font-size="13.4" font-weight="normal" fill="#111111" stroke="#111111" stroke-width="0.45" text-anchor="start" textLength="21" lengthAdjust="spacingAndGlyphs">Akt</text>
<ellipse cx="943.5" cy="399.2" rx="27.5" ry="18.5" fill="#f4eea0" opacity="0.85" filter="url(#blur2)"/><ellipse cx="943.5" cy="399.2" rx="23.5" ry="14.5" fill="url(#gSig)" stroke="#86c24a" stroke-width="1.3"/><text x="931" y="405" font-size="13.4" font-weight="normal" fill="#111111" stroke="#111111" stroke-width="0.45" text-anchor="start" textLength="24.8" lengthAdjust="spacingAndGlyphs">SOS</text>
<ellipse cx="943" cy="450.5" rx="27.5" ry="18.5" fill="#f4eea0" opacity="0.85" filter="url(#blur2)"/><ellipse cx="943" cy="450.5" rx="23.5" ry="14.5" fill="url(#gSig)" stroke="#86c24a" stroke-width="1.3"/><text x="931.5" y="456.8" font-size="13.4" font-weight="normal" fill="#111111" stroke="#111111" stroke-width="0.45" text-anchor="start" textLength="21.2" lengthAdjust="spacingAndGlyphs">Ras</text>
<ellipse cx="943.6" cy="498.3" rx="27.5" ry="18.5" fill="#f4eea0" opacity="0.85" filter="url(#blur2)"/><ellipse cx="943.6" cy="498.3" rx="23.5" ry="14.5" fill="url(#gSig)" stroke="#86c24a" stroke-width="1.3"/><text x="932.2" y="503.9" font-size="13.4" font-weight="normal" fill="#111111" stroke="#111111" stroke-width="0.45" text-anchor="start" textLength="20.4" lengthAdjust="spacingAndGlyphs">Raf</text>
<ellipse cx="943" cy="549.8" rx="27.5" ry="18.5" fill="#f4eea0" opacity="0.85" filter="url(#blur2)"/><ellipse cx="943" cy="549.8" rx="23.5" ry="14.5" fill="url(#gSig)" stroke="#86c24a" stroke-width="1.3"/><text x="928.8" y="555.9" font-size="13.4" font-weight="normal" fill="#111111" stroke="#111111" stroke-width="0.45" text-anchor="start" textLength="27.9" lengthAdjust="spacingAndGlyphs">MEK</text>
<ellipse cx="943" cy="602" rx="27.5" ry="18.5" fill="#f4eea0" opacity="0.85" filter="url(#blur2)"/><ellipse cx="943" cy="602" rx="23.5" ry="14.5" fill="url(#gSig)" stroke="#86c24a" stroke-width="1.3"/><text x="924.8" y="608" font-size="13.4" font-weight="normal" fill="#111111" stroke="#111111" stroke-width="0.45" text-anchor="start" textLength="38.8" lengthAdjust="spacingAndGlyphs">MAPK</text>
<circle cx="847.8" cy="436.8" r="10.3" fill="url(#gP)" stroke="#e0a830" stroke-width="0.8"/><text x="847.8" y="442.40000000000003" font-size="16" font-weight="normal" fill="#111" stroke="#111" stroke-width="0.6" text-anchor="middle">P</text>
<circle cx="969" cy="587.8" r="10.3" fill="url(#gP)" stroke="#e0a830" stroke-width="0.8"/><text x="969" y="593.4" font-size="16" font-weight="normal" fill="#111" stroke="#111" stroke-width="0.6" text-anchor="middle">P</text>
<circle cx="831.8" cy="331.5" r="10.3" fill="url(#gP)" stroke="#e0a830" stroke-width="0.8"/><text x="831.8" y="337.1" font-size="16" font-weight="normal" fill="#111" stroke="#111" stroke-width="0.6" text-anchor="middle">P</text>
<circle cx="944.2" cy="331.5" r="10.3" fill="url(#gP)" stroke="#e0a830" stroke-width="0.8"/><text x="944.2" y="337.1" font-size="16" font-weight="normal" fill="#111" stroke="#111" stroke-width="0.6" text-anchor="middle">P</text>
<path d="M853.6,406.8 C882,410.8 884,450.8 861.3,454.8" fill="none" stroke="#2c3a40" stroke-width="1.1"/><path d="M856.3,457.3 L866.3,450.3 L863.3,458.8 Z" fill="#111"/>
<path d="M966.4,399.5 C993,403.5 995,443.5 971.3,447.5" fill="none" stroke="#2c3a40" stroke-width="1.1"/><path d="M966.3,450.0 L976.3,443.0 L973.3,451.5 Z" fill="#111"/>
<path d="M967,451 C995,455 997,496 977,500" fill="none" stroke="#2c3a40" stroke-width="1.1"/><path d="M972,502.5 L982,495.5 L979,504 Z" fill="#111"/>
<path d="M967.3,508 C993,512 995,552.3 975,556.3" fill="none" stroke="#2c3a40" stroke-width="1.1"/><path d="M970,558.8 L980,551.8 L977,560.3 Z" fill="#111"/>
<path d="M968,562 C995,566 997,606.8 976.2,610.8" fill="none" stroke="#2c3a40" stroke-width="1.1"/><path d="M971.2,613.3 L981.2,606.3 L978.2,614.8 Z" fill="#111"/>
<line x1="796.5" y1="460" x2="685.1" y2="490.1" stroke="#1e6fc4" stroke-width="4.6"/><path d="M674.5,493 L683.4,483.9 L686.8,496.4 Z" fill="#1e6fc4"/>
<line x1="914" y1="593" x2="684.4" y2="514.2" stroke="#1e6fc4" stroke-width="4.6"/><path d="M674,510.6 L686.5,508.0 L682.3,520.3 Z" fill="#1e6fc4"/>
<line x1="851.5" y1="355.7" x2="843.6" y2="371.5" stroke="#1e6fc4" stroke-width="4"/><path d="M840,378.7 L839.1,369.3 L848.0,373.8 Z" fill="#1e6fc4"/>
<line x1="924.7" y1="356.7" x2="935.0" y2="372.0" stroke="#1e6fc4" stroke-width="4"/><path d="M939.4,378.7 L930.8,374.8 L939.1,369.3 Z" fill="#1e6fc4"/>
<rect x="8.3" y="8.6" width="1082.9" height="613.6" fill="none" stroke="#1f86c8" stroke-width="2.4"/>
</svg>
</body></html>
